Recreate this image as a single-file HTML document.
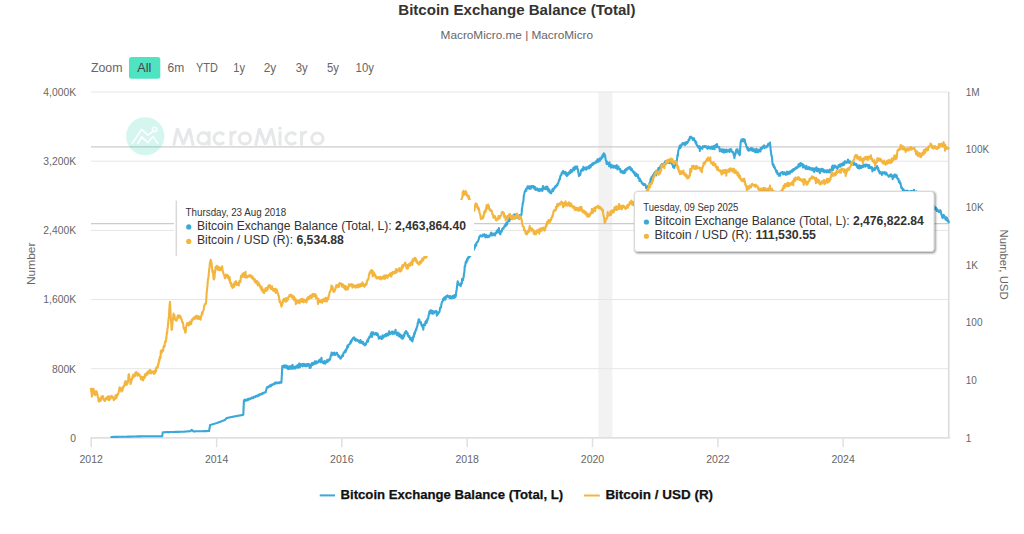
<!DOCTYPE html>
<html><head><meta charset="utf-8"><title>Bitcoin Exchange Balance (Total)</title>
<style>html,body{margin:0;padding:0;background:#fff;width:1024px;height:534px;overflow:hidden}svg{display:block;font-family:"Liberation Sans",sans-serif}</style>
</head><body>
<svg width="1024" height="534" viewBox="0 0 1024 534" font-family="Liberation Sans, sans-serif">
<rect width="1024" height="534" fill="#fff"/>
<text x="398.3" y="15.3" font-size="14.4" font-weight="bold" fill="#333" textLength="237.2" lengthAdjust="spacingAndGlyphs">Bitcoin Exchange Balance (Total)</text>
<text x="440.6" y="39" font-size="11" fill="#666" textLength="152.5" lengthAdjust="spacingAndGlyphs">MacroMicro.me | MacroMicro</text>
<rect x="129" y="57.1" width="31.3" height="21.6" rx="2.5" fill="#50e3c2"/>
<text x="90.9" y="72" font-size="12.5" fill="#666" textLength="31.6" lengthAdjust="spacingAndGlyphs">Zoom</text>
<text x="137.3" y="72" font-size="12.5" fill="#444" textLength="14.1" lengthAdjust="spacingAndGlyphs">All</text>
<text x="167.5" y="72" font-size="12.5" fill="#666" textLength="16.7" lengthAdjust="spacingAndGlyphs">6m</text>
<text x="196" y="72" font-size="12.5" fill="#666" textLength="21.8" lengthAdjust="spacingAndGlyphs">YTD</text>
<text x="233.3" y="72" font-size="12.5" fill="#666" textLength="11.7" lengthAdjust="spacingAndGlyphs">1y</text>
<text x="263.75" y="72" font-size="12.5" fill="#666" textLength="12.5" lengthAdjust="spacingAndGlyphs">2y</text>
<text x="295.8" y="72" font-size="12.5" fill="#666" textLength="12.0" lengthAdjust="spacingAndGlyphs">3y</text>
<text x="327" y="72" font-size="12.5" fill="#666" textLength="12.0" lengthAdjust="spacingAndGlyphs">5y</text>
<text x="355.6" y="72" font-size="12.5" fill="#666" textLength="18.3" lengthAdjust="spacingAndGlyphs">10y</text>
<rect x="598.4" y="92" width="14" height="346" fill="#f2f2f2"/>
<line x1="91" x2="949" y1="368.7" y2="368.7" stroke="#e6e6e6" stroke-width="1"/>
<line x1="91" x2="949" y1="299.5" y2="299.5" stroke="#e6e6e6" stroke-width="1"/>
<line x1="91" x2="949" y1="230.4" y2="230.4" stroke="#e6e6e6" stroke-width="1"/>
<line x1="91" x2="949" y1="161.2" y2="161.2" stroke="#e6e6e6" stroke-width="1"/>
<line x1="91" x2="949" y1="92.0" y2="92.0" stroke="#e6e6e6" stroke-width="1"/>
<line x1="91" x2="949" y1="146.9" y2="146.9" stroke="#cccccc" stroke-width="1.3"/>
<line x1="91" x2="949" y1="223.7" y2="223.7" stroke="#cccccc" stroke-width="1.3"/>
<line x1="948.7" x2="948.7" y1="92" y2="438" stroke="#dadada" stroke-width="1.5"/>
<circle cx="145.25" cy="136.25" r="19.1" fill="#2fd1ac" fill-opacity="0.2"/><path d="M132.2 143.4 L141.7 129.4 L147.9 135.2 L153.2 131.1 M138 143.4 L141.7 136.8 L147.9 142.6 L152.8 136.6 L157.8 143.4" stroke="#fff" stroke-width="1.6" fill="none" stroke-linejoin="round" stroke-linecap="round"/><circle cx="154.6" cy="129.4" r="2.2" fill="none" stroke="#fff" stroke-width="1.5"/><path d="M173.60 145.60 L177.40 128.60 L183.40 144.40 L189.40 128.60 L193.20 145.60 M197.90 138.45 A5.6 5.6 0 1 0 209.10 138.45 A5.6 5.6 0 1 0 197.90 138.45 M209.1 131.2 L209.1 145.6 M224.01 135.00 A5.6 5.6 0 1 0 224.01 141.90 M230.9 145.6 L230.9 131.3 M230.9 137.5 Q231.5 131.9 236.5 132.1 M239.30 138.5 A5.6 5.6 0 1 0 250.50 138.5 A5.6 5.6 0 1 0 239.30 138.5 M255.60 145.60 L259.40 128.60 L265.40 144.40 L271.40 128.60 L275.20 145.60 M280 131.3 L280 145.6 M296.01 135.00 A5.6 5.6 0 1 0 296.01 141.90 M301.5 145.6 L301.5 131.3 M301.5 137.5 Q302.1 131.9 307.1 132.1 M311.80 138.5 A5.6 5.6 0 1 0 323.00 138.5 A5.6 5.6 0 1 0 311.80 138.5" fill="none" stroke="#8c9196" stroke-opacity="0.22" stroke-width="3.0" stroke-linejoin="bevel"/><circle cx="280" cy="128.3" r="1.7" fill="#8c9196" fill-opacity="0.22"/>
<line x1="90.5" x2="950.2" y1="437.9" y2="437.9" stroke="#e0e0e0" stroke-width="1.8"/>
<line x1="91.2" x2="91.2" y1="438" y2="447.2" stroke="#e0e0e0" stroke-width="1.5"/>
<text x="79.5" y="463" font-size="10.5" fill="#666" textLength="23.4" lengthAdjust="spacingAndGlyphs">2012</text>
<line x1="216.6" x2="216.6" y1="438" y2="447.2" stroke="#e0e0e0" stroke-width="1.5"/>
<text x="204.9" y="463" font-size="10.5" fill="#666" textLength="23.4" lengthAdjust="spacingAndGlyphs">2014</text>
<line x1="341.8" x2="341.8" y1="438" y2="447.2" stroke="#e0e0e0" stroke-width="1.5"/>
<text x="330.1" y="463" font-size="10.5" fill="#666" textLength="23.4" lengthAdjust="spacingAndGlyphs">2016</text>
<line x1="467.2" x2="467.2" y1="438" y2="447.2" stroke="#e0e0e0" stroke-width="1.5"/>
<text x="455.5" y="463" font-size="10.5" fill="#666" textLength="23.4" lengthAdjust="spacingAndGlyphs">2018</text>
<line x1="592.5" x2="592.5" y1="438" y2="447.2" stroke="#e0e0e0" stroke-width="1.5"/>
<text x="580.8" y="463" font-size="10.5" fill="#666" textLength="23.4" lengthAdjust="spacingAndGlyphs">2020</text>
<line x1="717.9" x2="717.9" y1="438" y2="447.2" stroke="#e0e0e0" stroke-width="1.5"/>
<text x="706.2" y="463" font-size="10.5" fill="#666" textLength="23.4" lengthAdjust="spacingAndGlyphs">2022</text>
<line x1="843.1" x2="843.1" y1="438" y2="447.2" stroke="#e0e0e0" stroke-width="1.5"/>
<text x="831.4" y="463" font-size="10.5" fill="#666" textLength="23.4" lengthAdjust="spacingAndGlyphs">2024</text>
<text x="76" y="441.7" font-size="10.3" fill="#666" text-anchor="end">0</text>
<text x="76" y="372.5" font-size="10.3" fill="#666" text-anchor="end">800K</text>
<text x="76" y="303.3" font-size="10.3" fill="#666" text-anchor="end">1,600K</text>
<text x="76" y="234.2" font-size="10.3" fill="#666" text-anchor="end">2,400K</text>
<text x="76" y="165.0" font-size="10.3" fill="#666" text-anchor="end">3,200K</text>
<text x="76" y="95.8" font-size="10.3" fill="#666" text-anchor="end">4,000K</text>
<text x="965.8" y="441.6" font-size="10" fill="#666">1</text>
<text x="965.8" y="383.9" font-size="10" fill="#666">10</text>
<text x="965.8" y="326.3" font-size="10" fill="#666">100</text>
<text x="965.8" y="268.7" font-size="10" fill="#666">1K</text>
<text x="965.8" y="211.0" font-size="10" fill="#666">10K</text>
<text x="965.8" y="153.3" font-size="10" fill="#666">100K</text>
<text x="965.8" y="95.7" font-size="10" fill="#666">1M</text>
<text transform="translate(34.6 263.8) rotate(-90)" font-size="11.7" fill="#666" text-anchor="middle" textLength="42.5" lengthAdjust="spacingAndGlyphs">Number</text>
<text transform="translate(1000.2 264.6) rotate(90)" font-size="11.7" fill="#666" text-anchor="middle" textLength="70" lengthAdjust="spacingAndGlyphs">Number, USD</text>
<path d="M110.5 437.0 L110.8 437.0 L111.2 437.0 L111.5 437.0 L111.8 437.0 L112.2 437.0 L112.5 437.0 L112.8 437.0 L113.1 436.9 L113.5 436.9 L113.8 436.9 L114.1 436.9 L114.5 436.9 L114.8 436.9 L115.1 436.9 L115.5 436.9 L115.8 436.9 L116.1 436.9 L116.4 436.9 L116.8 436.9 L117.1 436.9 L117.4 436.9 L117.8 436.8 L118.1 436.8 L118.4 436.8 L118.8 436.8 L119.1 436.8 L119.4 436.8 L119.8 436.8 L120.1 436.8 L120.4 436.8 L120.7 436.8 L121.1 436.8 L121.4 436.8 L121.7 436.8 L122.1 436.8 L122.4 436.7 L122.7 436.7 L123.1 436.7 L123.4 436.7 L123.7 436.7 L124.0 436.7 L124.4 436.7 L124.7 436.7 L125.0 436.7 L125.4 436.7 L125.7 436.7 L126.0 436.7 L126.4 436.7 L126.7 436.7 L127.0 436.7 L127.4 436.6 L127.7 436.6 L128.0 436.6 L128.3 436.6 L128.7 436.6 L129.0 436.6 L129.3 436.6 L129.7 436.6 L130.0 436.6 L130.3 436.6 L130.7 436.6 L131.0 436.6 L131.3 436.6 L131.6 436.6 L132.0 436.5 L132.3 436.5 L132.6 436.5 L133.0 436.5 L133.3 436.5 L133.6 436.5 L134.0 436.5 L134.3 436.5 L134.6 436.5 L135.0 436.5 L135.3 436.5 L135.6 436.5 L135.9 436.5 L136.3 436.5 L136.6 436.5 L136.9 436.4 L137.3 436.4 L137.6 436.4 L137.9 436.4 L138.3 436.4 L138.6 436.4 L138.9 436.4 L139.2 436.4 L139.6 436.4 L139.9 436.4 L140.2 436.4 L140.6 436.4 L140.9 436.4 L141.2 436.4 L141.6 436.3 L141.9 436.3 L142.2 436.3 L142.6 436.3 L142.9 436.3 L143.2 436.3 L143.5 436.3 L143.9 436.3 L144.2 436.3 L144.5 436.3 L144.9 436.3 L145.2 436.3 L145.5 436.3 L145.9 436.3 L146.2 436.2 L146.5 436.2 L146.8 436.2 L147.2 436.2 L147.5 436.2 L147.8 436.2 L148.2 436.2 L148.5 436.2 L148.8 436.2 L149.2 436.2 L149.5 436.2 L149.8 436.2 L150.2 436.2 L150.5 436.2 L150.8 436.2 L151.2 436.2 L151.5 436.2 L151.8 436.2 L152.2 436.2 L152.5 436.2 L152.8 436.2 L153.2 436.2 L153.5 436.2 L153.8 436.2 L154.2 436.2 L154.5 436.2 L154.8 436.2 L155.2 436.2 L155.5 436.3 L155.9 436.3 L156.2 436.3 L156.5 436.3 L156.9 436.3 L157.2 436.3 L157.5 436.3 L157.9 436.3 L158.2 436.3 L158.5 436.3 L158.9 436.3 L159.2 436.3 L159.5 436.3 L159.9 436.3 L160.2 436.3 L160.5 436.3 L160.9 436.3 L161.2 436.3 L161.5 436.3 L161.9 436.3 L162.2 436.3 L162.8 432.2 L163.1 432.2 L163.5 432.2 L163.8 432.2 L164.1 432.2 L164.5 432.2 L164.8 432.2 L165.1 432.2 L165.5 432.1 L165.8 432.1 L166.1 432.1 L166.5 432.1 L166.8 432.1 L167.1 432.1 L167.5 432.1 L167.8 432.1 L168.1 432.1 L168.5 432.1 L168.8 432.1 L169.1 432.1 L169.4 432.1 L169.8 432.1 L170.1 432.0 L170.4 432.0 L170.8 432.0 L171.1 432.0 L171.4 432.0 L171.8 432.0 L172.1 432.0 L172.4 432.0 L172.8 432.0 L173.1 432.0 L173.4 432.0 L173.8 432.0 L174.1 432.0 L174.4 432.0 L174.8 431.9 L175.1 431.9 L175.4 431.9 L175.8 431.9 L176.1 431.9 L176.4 431.9 L176.8 431.9 L177.1 431.9 L177.4 431.9 L177.8 431.9 L178.1 431.9 L178.4 431.9 L178.8 431.9 L179.1 431.9 L179.4 431.8 L179.8 431.8 L180.1 431.8 L180.4 431.8 L180.8 431.8 L181.1 431.8 L181.4 431.8 L181.8 431.8 L182.1 431.8 L182.4 431.8 L182.8 431.7 L183.1 431.7 L183.4 431.7 L183.8 431.7 L184.1 431.6 L184.4 431.6 L184.8 431.6 L185.1 431.6 L185.5 431.5 L185.8 431.5 L186.1 431.5 L186.5 431.5 L186.8 431.5 L187.1 431.4 L187.5 431.4 L187.8 431.4 L188.1 431.4 L188.5 431.3 L188.8 431.3 L189.2 431.3 L189.5 431.3 L189.8 431.2 L190.2 431.2 L190.5 431.2 L190.8 430.7 L191.2 430.3 L191.5 429.8 L191.8 430.1 L192.2 430.3 L192.5 430.6 L192.8 430.9 L193.2 431.1 L193.5 431.4 L193.8 431.4 L194.2 431.4 L194.5 431.4 L194.8 431.4 L195.2 431.4 L195.5 431.3 L195.8 431.3 L196.2 431.3 L196.5 431.3 L196.8 431.3 L197.2 431.3 L197.5 431.3 L197.8 431.3 L198.1 431.3 L198.5 431.3 L198.8 431.3 L199.1 431.3 L199.5 431.2 L199.8 431.2 L200.1 431.2 L200.5 431.2 L200.8 431.2 L201.1 431.2 L201.5 431.2 L201.8 431.2 L202.1 431.2 L202.5 431.2 L202.8 431.2 L203.1 431.2 L203.5 431.1 L203.8 431.1 L204.1 431.1 L204.5 431.1 L204.8 431.1 L205.1 431.1 L205.4 431.1 L205.8 431.1 L206.1 431.1 L206.4 431.1 L206.8 431.1 L207.1 431.1 L207.4 431.0 L207.8 431.0 L208.1 431.0 L208.4 431.0 L208.8 431.0 L209.1 431.0 L209.4 429.0 L209.8 427.0 L210.1 425.0 L210.4 424.9 L210.8 424.8 L211.1 424.7 L211.5 424.6 L211.8 424.5 L212.1 424.4 L212.5 424.3 L212.8 424.2 L213.2 424.1 L213.5 424.0 L213.8 423.9 L214.2 423.8 L214.5 423.7 L214.9 423.6 L215.2 423.5 L215.5 423.4 L215.9 423.3 L216.2 423.2 L216.6 423.1 L216.9 423.0 L217.2 422.9 L217.6 422.7 L217.9 422.6 L218.3 422.5 L218.6 422.4 L218.9 422.2 L219.3 422.1 L219.6 422.0 L220.0 421.9 L220.3 421.7 L220.6 421.6 L221.0 421.5 L221.3 421.4 L221.6 421.2 L222.0 421.1 L222.3 421.0 L222.7 420.9 L223.0 420.7 L223.3 420.6 L223.7 420.5 L224.0 420.4 L224.4 420.2 L224.7 420.1 L225.0 419.8 L225.4 419.4 L225.7 419.1 L226.0 418.8 L226.4 418.4 L226.7 418.1 L227.0 418.0 L227.4 417.9 L227.7 417.9 L228.1 417.8 L228.4 417.7 L228.7 417.6 L229.1 417.6 L229.4 417.5 L229.8 417.4 L230.1 417.3 L230.5 417.3 L230.8 417.2 L231.1 417.1 L231.5 417.0 L231.8 417.0 L232.2 416.9 L232.5 416.8 L232.8 416.7 L233.2 416.7 L233.5 416.6 L233.8 416.6 L234.2 416.5 L234.5 416.4 L234.9 416.4 L235.2 416.3 L235.5 416.2 L235.9 416.2 L236.2 416.1 L236.6 416.1 L236.9 416.0 L237.2 415.9 L237.6 415.9 L237.9 415.8 L238.2 415.7 L238.6 415.7 L238.9 415.6 L239.2 415.6 L239.6 415.5 L239.9 415.4 L240.3 415.4 L240.6 415.3 L240.9 415.2 L241.3 415.2 L241.6 415.1 L242.0 415.1 L242.3 415.0 L242.6 414.9 L243.0 414.9 L243.3 414.8 L243.9 400.9 L244.2 400.2 L244.6 399.5 L244.9 400.2 L245.3 400.9 L245.6 400.0 L245.9 400.3 L246.3 400.3 L246.6 399.7 L247.0 400.5 L247.3 399.9 L247.7 399.0 L248.0 399.4 L248.3 399.9 L248.7 398.9 L249.0 399.1 L249.4 398.6 L249.7 399.1 L250.1 399.1 L250.4 398.4 L250.7 398.3 L251.1 397.9 L251.4 398.5 L251.8 397.6 L252.1 398.0 L252.4 398.0 L252.8 398.3 L253.1 398.2 L253.5 396.9 L253.8 397.3 L254.1 397.1 L254.5 396.9 L254.8 397.1 L255.2 397.1 L255.5 396.1 L255.8 396.2 L256.2 396.1 L256.5 395.8 L256.8 395.7 L257.2 396.3 L257.5 395.5 L257.9 396.2 L258.2 395.1 L258.5 395.5 L258.9 394.7 L259.2 395.4 L259.6 395.3 L259.9 394.7 L260.2 394.0 L260.6 394.0 L260.9 394.4 L261.3 394.0 L261.6 393.9 L261.9 394.2 L262.3 393.2 L262.6 393.7 L263.0 393.3 L263.3 392.9 L263.7 393.3 L264.0 392.7 L264.3 392.4 L264.7 392.3 L265.0 392.2 L265.4 392.5 L265.7 392.3 L266.0 390.4 L266.4 389.4 L266.7 387.9 L267.1 387.2 L267.4 387.6 L267.8 386.9 L268.1 387.4 L268.5 386.7 L268.9 386.3 L269.2 386.7 L269.6 385.9 L269.9 385.4 L270.3 385.2 L270.6 386.5 L271.0 385.6 L271.3 385.5 L271.7 384.5 L272.0 384.8 L272.4 385.0 L272.7 384.5 L273.1 384.2 L273.4 383.8 L273.8 384.4 L274.1 383.7 L274.5 384.1 L274.8 382.9 L275.2 383.7 L275.5 383.0 L275.8 382.4 L276.2 382.8 L276.5 383.1 L276.9 382.5 L277.2 382.5 L277.6 383.3 L277.9 382.5 L278.3 382.7 L278.6 382.6 L279.0 382.5 L279.3 383.2 L279.7 382.9 L280.0 382.1 L280.4 382.2 L280.7 382.7 L281.1 382.4 L281.4 382.6 L281.9 374.4 L282.3 366.1 L282.6 366.7 L283.0 366.1 L283.3 367.2 L283.7 365.6 L284.0 367.4 L284.4 365.6 L284.7 365.5 L285.1 366.6 L285.4 366.7 L285.7 365.5 L286.1 365.7 L286.4 368.0 L286.8 365.8 L287.1 366.9 L287.5 366.2 L287.8 367.5 L288.1 369.1 L288.5 368.5 L288.8 369.0 L289.2 368.9 L289.5 366.3 L289.8 368.8 L290.2 366.9 L290.5 366.3 L290.9 366.6 L291.2 366.2 L291.5 368.7 L291.9 366.5 L292.2 366.7 L292.5 364.9 L292.9 368.6 L293.2 368.5 L293.6 368.1 L293.9 367.3 L294.2 366.7 L294.6 367.3 L294.9 368.4 L295.3 368.7 L295.6 367.1 L295.9 366.7 L296.3 366.1 L296.6 367.0 L297.0 367.5 L297.3 365.6 L297.6 365.1 L298.0 365.6 L298.3 367.8 L298.7 366.7 L299.0 364.5 L299.3 363.4 L299.7 365.7 L300.0 367.1 L300.3 364.8 L300.7 364.1 L301.0 364.4 L301.4 364.9 L301.7 365.6 L302.0 364.3 L302.4 365.0 L302.7 366.4 L303.1 363.8 L303.4 364.8 L303.7 365.3 L304.1 365.7 L304.4 364.1 L304.8 365.9 L305.1 364.4 L305.5 364.7 L305.8 365.7 L306.2 366.3 L306.5 365.2 L306.9 364.2 L307.2 365.9 L307.5 365.4 L307.9 363.9 L308.2 365.4 L308.6 365.6 L308.9 364.1 L309.3 364.5 L309.6 368.0 L310.0 365.9 L310.3 365.2 L310.7 367.6 L311.0 364.7 L311.4 364.5 L311.7 363.3 L312.1 362.9 L312.4 365.0 L312.8 365.1 L313.1 363.1 L313.4 363.5 L313.8 363.6 L314.1 363.8 L314.5 362.2 L314.8 361.4 L315.2 362.8 L315.6 361.7 L315.9 363.8 L316.3 361.6 L316.6 361.3 L317.0 363.0 L317.3 362.1 L317.7 362.7 L318.0 362.1 L318.4 361.9 L318.7 361.2 L319.1 360.3 L319.4 359.8 L319.8 360.9 L320.1 362.0 L320.5 359.3 L320.8 362.3 L321.1 359.9 L321.5 357.8 L321.8 361.7 L322.2 362.2 L322.5 361.8 L322.8 362.7 L323.2 363.1 L323.5 363.1 L323.9 363.5 L324.2 361.2 L324.5 360.8 L324.9 363.4 L325.2 363.6 L325.6 362.0 L325.9 362.8 L326.3 361.2 L326.6 361.2 L327.0 361.6 L327.3 359.7 L327.7 361.9 L328.0 360.3 L328.4 360.6 L328.7 360.6 L329.1 359.3 L329.4 360.5 L329.8 359.3 L330.2 359.1 L330.5 356.6 L330.9 355.3 L331.2 354.6 L331.6 352.6 L331.9 355.4 L332.3 353.0 L332.6 353.0 L333.0 354.1 L333.3 353.2 L333.6 354.4 L334.0 354.9 L334.3 352.6 L334.6 353.6 L335.0 354.1 L335.3 354.7 L335.6 354.8 L335.9 353.5 L336.3 353.7 L336.6 352.8 L336.9 352.7 L337.3 353.6 L337.6 354.4 L338.0 354.8 L338.3 356.5 L338.7 355.6 L339.1 356.9 L339.4 357.0 L339.8 356.4 L340.2 358.5 L340.5 358.6 L340.9 358.3 L341.3 357.5 L341.6 357.4 L342.0 356.4 L342.3 355.1 L342.7 354.8 L343.1 355.9 L343.4 353.1 L343.8 353.1 L344.1 352.0 L344.5 352.5 L344.9 350.9 L345.2 352.0 L345.6 352.1 L345.9 349.6 L346.3 350.3 L346.6 348.5 L347.0 348.6 L347.3 346.5 L347.7 345.4 L348.0 347.2 L348.4 345.6 L348.7 345.0 L349.1 344.4 L349.4 344.3 L349.8 344.1 L350.1 342.6 L350.5 343.1 L350.8 340.8 L351.1 342.4 L351.5 341.2 L351.8 340.6 L352.2 339.3 L352.5 339.3 L352.9 338.1 L353.2 337.8 L353.5 338.7 L353.9 337.3 L354.2 338.2 L354.6 338.2 L354.9 340.0 L355.3 339.3 L355.6 338.6 L356.0 340.7 L356.3 339.7 L356.7 340.4 L357.0 339.7 L357.4 340.1 L357.7 340.7 L358.1 340.6 L358.4 340.4 L358.8 342.0 L359.1 340.7 L359.4 341.5 L359.8 341.9 L360.1 342.8 L360.5 340.1 L360.8 341.4 L361.1 341.3 L361.5 342.7 L361.8 341.5 L362.2 343.2 L362.5 342.7 L362.8 343.8 L363.2 342.1 L363.5 344.1 L363.9 343.9 L364.2 343.8 L364.5 345.3 L364.9 344.5 L365.2 345.2 L365.6 343.7 L365.9 344.6 L366.2 342.6 L366.6 342.6 L366.9 341.6 L367.3 340.8 L367.6 339.8 L368.0 341.6 L368.4 338.4 L368.7 338.4 L369.1 338.2 L369.4 336.5 L369.8 337.3 L370.1 336.5 L370.4 335.6 L370.8 333.9 L371.2 334.9 L371.5 332.2 L371.9 337.0 L372.2 332.8 L372.6 332.4 L372.9 334.4 L373.2 332.3 L373.6 334.3 L373.9 334.5 L374.3 334.1 L374.6 334.4 L375.0 334.1 L375.3 333.6 L375.7 332.9 L376.1 334.1 L376.4 334.9 L376.8 333.3 L377.1 333.3 L377.4 333.4 L377.8 334.0 L378.1 335.5 L378.5 337.1 L378.9 338.8 L379.2 336.9 L379.6 338.2 L379.9 337.2 L380.2 336.5 L380.6 338.2 L380.9 338.4 L381.3 338.6 L381.6 338.9 L382.0 338.9 L382.3 337.1 L382.6 335.4 L383.0 337.1 L383.3 337.6 L383.7 336.2 L384.0 336.9 L384.3 335.6 L384.7 335.8 L385.0 334.7 L385.4 334.9 L385.7 334.2 L386.0 336.3 L386.4 335.5 L386.7 333.7 L387.1 334.4 L387.4 333.9 L387.7 334.7 L388.1 335.4 L388.4 333.8 L388.8 332.2 L389.1 331.3 L389.4 333.8 L389.8 334.3 L390.1 333.7 L390.5 333.7 L390.8 333.5 L391.1 332.2 L391.5 332.9 L391.8 331.7 L392.1 331.4 L392.5 334.2 L392.8 332.4 L393.2 333.6 L393.5 331.9 L393.8 332.3 L394.2 332.3 L394.5 333.8 L394.9 332.6 L395.2 332.3 L395.5 329.7 L395.9 333.0 L396.2 332.8 L396.6 332.4 L396.9 334.9 L397.2 333.7 L397.6 332.7 L397.9 333.3 L398.3 332.9 L398.6 336.0 L398.9 336.4 L399.3 336.4 L399.6 333.9 L399.9 334.8 L400.3 334.9 L400.6 337.0 L401.0 337.5 L401.3 335.3 L401.6 337.5 L402.0 338.5 L402.3 338.8 L402.7 336.0 L403.0 337.8 L403.3 338.2 L403.7 334.9 L404.0 336.3 L404.3 335.9 L404.7 332.6 L405.0 333.5 L405.3 333.1 L405.7 332.7 L406.0 331.0 L406.3 332.0 L406.7 331.9 L407.0 333.6 L407.4 334.2 L407.7 333.2 L408.0 335.9 L408.4 336.0 L408.7 335.9 L409.1 337.2 L409.4 336.1 L409.8 338.5 L410.1 338.4 L410.4 339.7 L410.8 338.3 L411.1 337.8 L411.5 340.4 L411.8 340.7 L412.2 341.0 L412.5 341.4 L412.9 339.2 L413.2 336.4 L413.6 337.2 L413.9 336.6 L414.2 333.1 L414.6 334.5 L414.9 333.4 L415.3 330.8 L415.6 331.4 L416.0 329.0 L416.3 329.8 L416.7 328.1 L417.0 326.5 L417.4 326.1 L417.7 322.8 L418.0 323.5 L418.4 320.8 L418.7 319.3 L419.1 320.3 L419.4 319.7 L419.8 322.1 L420.1 322.3 L420.5 322.9 L420.8 322.1 L421.2 323.9 L421.5 325.4 L421.9 324.6 L422.2 325.9 L422.6 327.1 L423.0 325.1 L423.3 329.7 L423.7 325.6 L424.0 324.4 L424.4 324.4 L424.7 325.0 L425.1 325.2 L425.4 321.7 L425.8 321.7 L426.1 320.8 L426.4 322.9 L426.8 322.7 L427.1 319.4 L427.5 320.3 L427.9 318.2 L428.3 318.2 L428.6 315.2 L429.0 314.7 L429.4 311.5 L429.8 311.2 L430.1 310.6 L430.4 313.3 L430.8 310.3 L431.1 311.4 L431.5 313.2 L431.9 310.6 L432.2 312.7 L432.6 313.7 L432.9 311.1 L433.2 313.7 L433.6 311.7 L433.9 313.3 L434.3 312.5 L434.7 311.9 L435.0 311.3 L435.4 311.4 L435.7 311.4 L436.1 310.9 L436.4 311.5 L436.8 315.6 L437.1 313.9 L437.4 313.7 L437.8 312.3 L438.1 313.9 L438.5 312.9 L438.8 312.0 L439.2 312.5 L439.6 311.2 L439.9 308.9 L440.3 307.3 L440.6 307.7 L441.0 307.5 L441.3 304.7 L441.7 303.0 L442.0 302.0 L442.4 301.3 L442.7 301.3 L443.1 298.8 L443.5 300.2 L443.8 299.8 L444.2 297.5 L444.5 297.6 L444.9 297.2 L445.2 299.6 L445.6 299.2 L445.9 297.0 L446.2 296.2 L446.6 296.8 L446.9 295.8 L447.3 296.7 L447.6 295.4 L448.0 296.9 L448.4 297.1 L448.7 296.9 L449.1 296.3 L449.4 296.1 L449.8 298.2 L450.1 296.5 L450.5 296.2 L450.8 297.6 L451.2 296.8 L451.5 298.5 L451.9 297.9 L452.3 298.0 L452.6 296.1 L453.0 297.1 L453.3 295.7 L453.7 296.5 L454.0 298.0 L454.4 295.1 L454.7 296.4 L455.1 295.5 L455.4 297.1 L455.8 295.9 L456.2 291.9 L456.6 290.3 L456.9 287.3 L457.3 284.2 L457.7 281.2 L458.0 282.5 L458.4 283.5 L458.7 283.5 L459.0 284.2 L459.4 285.1 L459.7 284.5 L460.0 285.1 L460.4 284.0 L460.7 286.1 L461.1 284.1 L461.4 282.6 L461.8 283.8 L462.1 278.7 L462.5 279.6 L462.9 280.2 L463.2 278.5 L463.6 277.3 L464.0 273.3 L464.4 272.6 L464.7 266.4 L465.1 266.4 L465.5 263.7 L465.8 261.7 L466.2 261.0 L466.5 262.6 L466.8 260.9 L467.2 258.8 L467.5 260.5 L467.8 258.1 L468.2 257.6 L468.5 256.8 L468.9 257.8 L469.2 255.4 L469.6 255.0 L469.9 256.6 L470.3 255.9 L470.6 255.3 L471.0 253.8 L471.3 254.7 L471.7 252.6 L472.0 252.0 L472.4 252.0 L472.8 249.9 L473.1 250.5 L473.4 247.1 L473.8 249.9 L474.1 248.7 L474.5 247.5 L474.8 248.1 L475.2 244.7 L475.5 244.9 L475.8 244.2 L476.2 245.7 L476.5 242.9 L476.8 242.9 L477.2 241.8 L477.5 241.8 L477.9 241.6 L478.2 240.7 L478.6 239.7 L478.9 238.9 L479.2 237.2 L479.6 236.4 L479.9 236.6 L480.3 236.2 L480.6 235.3 L481.0 236.2 L481.3 236.3 L481.6 236.4 L482.0 236.5 L482.3 235.9 L482.7 235.5 L483.0 234.7 L483.3 235.5 L483.7 235.7 L484.0 235.3 L484.3 234.3 L484.7 234.7 L485.0 235.7 L485.4 237.4 L485.7 236.8 L486.1 234.7 L486.4 236.0 L486.8 236.0 L487.1 237.2 L487.5 235.7 L487.8 236.7 L488.1 237.2 L488.5 235.7 L488.8 236.5 L489.1 236.8 L489.5 235.5 L489.8 236.0 L490.2 234.8 L490.5 235.3 L490.8 233.2 L491.2 232.6 L491.5 233.9 L491.8 234.2 L492.2 235.5 L492.5 233.7 L492.9 235.2 L493.2 233.7 L493.6 234.0 L493.9 233.5 L494.3 234.4 L494.6 233.7 L495.0 235.4 L495.3 234.3 L495.7 233.6 L496.0 232.6 L496.4 233.0 L496.7 230.9 L497.1 231.1 L497.4 232.2 L497.8 229.7 L498.1 230.1 L498.5 232.1 L498.9 228.1 L499.2 232.1 L499.6 233.6 L500.0 233.4 L500.4 234.4 L500.7 232.2 L501.1 231.1 L501.4 231.2 L501.8 231.6 L502.1 229.7 L502.4 228.5 L502.8 228.3 L503.2 228.1 L503.5 228.7 L503.9 227.0 L504.2 227.0 L504.6 225.7 L504.9 226.8 L505.2 224.8 L505.6 225.0 L506.0 225.6 L506.3 222.8 L506.6 224.2 L507.0 224.7 L507.4 222.4 L507.7 221.5 L508.0 221.7 L508.4 221.2 L508.8 219.6 L509.2 220.4 L509.5 221.1 L509.9 217.5 L510.3 218.4 L510.6 219.1 L511.0 218.5 L511.3 216.2 L511.6 217.7 L512.0 216.2 L512.3 217.0 L512.7 217.1 L513.0 218.0 L513.3 215.8 L513.7 214.8 L514.0 215.6 L514.3 214.4 L514.7 214.7 L515.0 216.9 L515.3 217.0 L515.7 214.5 L516.0 215.6 L516.4 215.8 L516.7 215.7 L517.0 217.8 L517.4 216.1 L517.7 216.3 L518.0 218.0 L518.4 218.4 L518.7 217.0 L519.1 217.2 L519.5 215.1 L519.9 217.4 L520.2 217.3 L520.6 215.2 L521.0 215.6 L521.4 214.8 L521.7 212.4 L522.0 208.3 L522.4 206.4 L522.8 203.0 L523.2 202.5 L523.5 199.7 L523.9 195.2 L524.3 193.7 L524.6 192.1 L525.0 191.7 L525.3 190.5 L525.6 190.8 L526.0 189.1 L526.3 190.9 L526.6 188.4 L527.0 187.9 L527.3 187.9 L527.6 186.4 L528.0 187.3 L528.3 188.4 L528.7 186.9 L529.0 186.4 L529.3 188.6 L529.7 186.4 L530.0 188.1 L530.4 188.8 L530.7 188.8 L531.1 186.4 L531.4 186.0 L531.7 186.4 L532.1 187.4 L532.4 186.2 L532.8 186.0 L533.1 186.9 L533.5 186.0 L533.8 187.6 L534.2 188.6 L534.5 188.5 L534.9 187.6 L535.2 187.2 L535.6 189.9 L535.9 189.5 L536.3 189.5 L536.6 189.5 L537.0 189.8 L537.4 188.4 L537.7 188.9 L538.0 190.5 L538.4 189.5 L538.8 190.7 L539.1 191.0 L539.5 189.1 L539.8 191.1 L540.1 189.3 L540.5 190.3 L540.9 189.0 L541.2 189.3 L541.5 188.8 L541.9 189.8 L542.2 191.0 L542.6 190.2 L542.9 186.0 L543.3 188.3 L543.6 188.7 L544.0 187.6 L544.3 187.8 L544.7 188.9 L545.0 187.8 L545.4 189.0 L545.8 186.7 L546.1 189.1 L546.4 186.6 L546.8 187.9 L547.2 188.7 L547.5 186.9 L547.9 190.1 L548.2 191.0 L548.6 188.8 L548.9 190.2 L549.3 192.0 L549.6 190.1 L550.0 191.6 L550.3 192.9 L550.7 192.7 L551.0 193.4 L551.4 191.7 L551.7 192.1 L552.1 191.1 L552.4 189.5 L552.8 188.8 L553.1 190.9 L553.5 189.6 L553.8 189.5 L554.2 187.9 L554.5 187.8 L554.9 186.9 L555.2 186.3 L555.6 187.6 L555.9 185.9 L556.3 186.1 L556.6 185.9 L557.0 184.6 L557.3 185.4 L557.7 183.6 L558.0 183.5 L558.4 182.5 L558.8 181.3 L559.1 179.8 L559.5 179.1 L559.9 179.3 L560.2 176.7 L560.6 175.6 L561.0 174.9 L561.3 175.4 L561.7 172.7 L562.0 173.0 L562.4 172.2 L562.8 171.3 L563.1 170.9 L563.4 173.4 L563.8 173.5 L564.1 173.1 L564.5 173.0 L564.8 172.2 L565.2 171.8 L565.5 173.9 L565.9 175.0 L566.2 173.0 L566.6 172.8 L566.9 176.1 L567.3 174.2 L567.6 173.3 L568.0 174.1 L568.4 174.7 L568.7 174.0 L569.0 173.6 L569.4 171.5 L569.8 171.7 L570.1 172.1 L570.5 172.8 L570.8 169.9 L571.1 171.5 L571.5 171.5 L571.9 172.0 L572.2 170.3 L572.6 170.0 L572.9 169.1 L573.2 168.1 L573.6 168.1 L574.0 170.4 L574.3 167.2 L574.7 167.4 L575.0 166.5 L575.4 168.9 L575.7 167.3 L576.1 167.8 L576.4 166.7 L576.8 166.5 L577.1 166.4 L577.5 169.4 L577.9 169.2 L578.2 172.0 L578.6 173.7 L579.0 176.1 L579.3 174.0 L579.7 174.5 L580.0 175.1 L580.3 174.6 L580.7 172.7 L581.0 170.2 L581.3 171.2 L581.7 170.3 L582.0 169.3 L582.3 169.2 L582.7 168.5 L583.0 170.4 L583.4 166.8 L583.7 168.8 L584.0 169.5 L584.4 169.1 L584.7 168.9 L585.1 168.4 L585.4 167.7 L585.8 168.8 L586.1 169.8 L586.4 167.2 L586.8 167.7 L587.1 168.6 L587.5 168.6 L587.8 168.3 L588.2 168.1 L588.5 166.4 L588.9 166.1 L589.2 168.4 L589.6 167.7 L589.9 165.5 L590.3 167.2 L590.6 167.2 L591.0 164.9 L591.3 165.9 L591.7 165.4 L592.1 163.9 L592.4 163.3 L592.8 163.9 L593.1 164.7 L593.5 163.0 L593.8 163.0 L594.2 163.3 L594.5 162.8 L594.9 163.4 L595.2 162.6 L595.6 161.5 L596.0 162.2 L596.3 162.3 L596.6 160.7 L597.0 162.4 L597.4 159.3 L597.7 159.4 L598.0 161.5 L598.4 161.7 L598.8 159.4 L599.1 159.9 L599.5 160.2 L599.8 158.3 L600.1 160.6 L600.5 159.5 L600.9 159.1 L601.2 159.0 L601.6 156.8 L601.9 157.5 L602.3 157.8 L602.6 154.8 L603.0 154.7 L603.3 156.5 L603.7 153.3 L604.0 155.2 L604.4 153.7 L604.7 154.8 L605.1 155.5 L605.4 157.8 L605.7 159.9 L606.1 160.5 L606.4 162.5 L606.7 164.0 L607.1 161.6 L607.4 162.9 L607.8 163.9 L608.1 163.4 L608.5 164.8 L608.8 162.9 L609.2 166.3 L609.5 162.4 L609.9 164.6 L610.2 165.6 L610.6 166.1 L610.9 167.6 L611.2 166.4 L611.6 164.9 L611.9 167.3 L612.3 167.3 L612.6 166.8 L613.0 165.7 L613.3 167.6 L613.7 167.0 L614.0 167.2 L614.3 166.4 L614.7 165.9 L615.0 166.1 L615.4 165.9 L615.7 168.0 L616.1 166.0 L616.4 165.6 L616.8 165.2 L617.1 166.4 L617.4 169.5 L617.8 167.0 L618.1 167.0 L618.5 166.6 L618.8 167.8 L619.2 169.0 L619.5 168.7 L619.9 169.9 L620.2 169.0 L620.6 172.0 L620.9 171.7 L621.3 172.4 L621.6 171.6 L622.0 171.3 L622.3 170.9 L622.7 172.1 L623.0 173.2 L623.3 172.0 L623.7 171.5 L624.0 173.3 L624.4 170.8 L624.7 172.9 L625.0 169.8 L625.4 172.0 L625.7 169.3 L626.1 170.2 L626.4 170.2 L626.8 168.5 L627.1 169.8 L627.4 168.4 L627.8 167.8 L628.1 167.7 L628.5 168.6 L628.8 167.3 L629.1 167.6 L629.5 167.2 L629.8 166.8 L630.2 168.9 L630.5 167.6 L630.9 170.1 L631.2 168.4 L631.6 168.9 L631.9 169.1 L632.3 170.5 L632.6 171.4 L633.0 172.0 L633.3 171.3 L633.7 171.4 L634.0 173.3 L634.4 172.2 L634.7 173.2 L635.0 175.2 L635.4 173.4 L635.7 176.0 L636.1 173.5 L636.4 176.0 L636.7 175.5 L637.1 175.5 L637.4 175.6 L637.8 174.6 L638.1 177.8 L638.5 177.2 L638.8 178.3 L639.1 178.1 L639.5 181.0 L639.8 178.6 L640.2 179.7 L640.5 181.0 L640.9 181.3 L641.2 181.1 L641.5 181.8 L641.9 183.5 L642.2 183.2 L642.6 183.3 L643.0 184.3 L643.3 183.6 L643.6 185.0 L644.0 184.0 L644.4 184.8 L644.7 184.0 L645.0 185.0 L645.4 184.7 L645.8 186.5 L646.1 188.0 L646.5 187.0 L646.8 188.4 L647.1 186.9 L647.5 188.0 L647.8 188.1 L648.2 185.7 L648.5 186.6 L648.8 185.0 L649.2 183.4 L649.5 183.9 L649.8 183.0 L650.2 181.8 L650.5 180.0 L650.8 178.5 L651.2 180.6 L651.5 177.0 L651.8 179.5 L652.2 180.5 L652.5 177.8 L652.8 175.4 L653.2 174.7 L653.5 176.8 L653.8 176.2 L654.2 173.0 L654.5 174.0 L654.9 174.5 L655.2 171.7 L655.5 171.8 L655.9 171.0 L656.2 175.4 L656.6 172.6 L657.0 170.9 L657.3 170.3 L657.7 170.7 L658.0 170.4 L658.4 168.0 L658.7 168.8 L659.1 168.4 L659.4 167.6 L659.8 169.2 L660.1 168.1 L660.5 166.0 L660.8 165.3 L661.2 166.4 L661.5 166.1 L661.9 164.0 L662.2 165.7 L662.6 164.9 L663.0 164.8 L663.3 165.9 L663.7 164.8 L664.0 163.3 L664.4 165.1 L664.7 163.0 L665.1 161.9 L665.4 161.2 L665.8 163.9 L666.1 162.6 L666.5 162.0 L666.9 161.1 L667.2 160.6 L667.6 162.6 L667.9 160.2 L668.3 161.0 L668.6 161.6 L669.0 162.9 L669.3 163.1 L669.7 161.2 L670.0 162.7 L670.4 161.0 L670.8 162.0 L671.1 161.9 L671.5 162.5 L671.8 163.9 L672.2 163.6 L672.5 164.9 L672.9 165.8 L673.2 167.3 L673.6 167.4 L673.9 167.2 L674.3 167.9 L674.7 165.5 L675.0 165.5 L675.4 164.3 L675.8 162.2 L676.1 162.8 L676.5 161.0 L676.8 160.6 L677.2 158.1 L677.5 154.8 L677.9 155.6 L678.2 151.5 L678.5 150.1 L678.9 148.6 L679.2 147.3 L679.6 147.1 L679.9 145.5 L680.3 148.1 L680.6 146.1 L681.0 146.9 L681.3 144.6 L681.7 145.0 L682.0 144.4 L682.4 144.4 L682.7 143.1 L683.1 144.4 L683.5 144.5 L683.8 143.2 L684.2 143.4 L684.5 143.2 L684.9 142.6 L685.2 145.0 L685.6 143.5 L685.9 144.0 L686.3 142.1 L686.6 143.1 L687.0 143.4 L687.4 142.1 L687.7 142.6 L688.1 141.1 L688.4 141.2 L688.8 139.3 L689.1 140.4 L689.5 139.6 L689.8 137.1 L690.2 137.5 L690.5 137.2 L690.9 136.6 L691.3 137.8 L691.6 138.0 L692.0 137.5 L692.3 137.7 L692.7 139.6 L693.0 138.7 L693.4 140.1 L693.7 140.2 L694.1 138.3 L694.4 140.3 L694.8 140.5 L695.2 142.1 L695.5 141.1 L695.9 143.7 L696.2 142.1 L696.6 144.4 L697.0 145.5 L697.3 145.6 L697.7 146.4 L698.1 147.2 L698.4 147.0 L698.8 147.9 L699.1 146.0 L699.5 147.3 L699.8 151.0 L700.2 146.8 L700.5 147.0 L700.9 148.1 L701.2 147.9 L701.6 148.3 L702.0 147.5 L702.3 148.9 L702.7 147.0 L703.0 146.2 L703.4 147.0 L703.7 147.2 L704.1 146.7 L704.4 146.0 L704.8 146.9 L705.1 146.0 L705.5 146.4 L705.8 146.3 L706.2 146.2 L706.5 147.8 L706.8 147.7 L707.2 147.5 L707.5 148.7 L707.8 148.7 L708.2 147.5 L708.5 146.4 L708.8 146.6 L709.2 147.1 L709.5 148.3 L709.9 148.4 L710.2 148.1 L710.6 148.6 L710.9 147.0 L711.3 146.7 L711.6 146.8 L712.0 146.4 L712.3 149.0 L712.7 148.0 L713.0 148.7 L713.4 147.3 L713.8 146.0 L714.1 147.6 L714.5 149.3 L714.8 145.8 L715.2 145.9 L715.5 145.2 L715.9 145.5 L716.2 144.8 L716.6 147.3 L716.9 144.1 L717.3 145.4 L717.7 146.5 L718.0 146.8 L718.4 147.1 L718.8 147.6 L719.1 147.2 L719.5 147.9 L719.8 151.3 L720.2 150.3 L720.6 150.5 L720.9 149.9 L721.2 150.5 L721.6 149.3 L722.0 151.8 L722.3 150.8 L722.7 149.6 L723.0 152.1 L723.4 150.0 L723.7 149.5 L724.1 152.5 L724.4 152.5 L724.8 149.7 L725.1 151.2 L725.4 151.0 L725.8 151.9 L726.1 152.0 L726.5 149.6 L726.8 149.7 L727.1 151.8 L727.5 150.7 L727.8 150.9 L728.2 151.2 L728.5 150.9 L728.9 150.2 L729.2 149.5 L729.5 151.9 L729.9 151.6 L730.2 150.3 L730.6 149.1 L730.9 150.3 L731.3 149.5 L731.6 151.3 L732.0 151.5 L732.3 152.2 L732.7 152.1 L733.0 152.7 L733.4 152.2 L733.7 155.1 L734.1 155.6 L734.4 158.0 L734.8 155.2 L735.1 155.1 L735.5 153.8 L735.8 153.1 L736.1 150.5 L736.5 149.5 L736.8 149.3 L737.2 149.4 L737.5 149.4 L737.9 150.7 L738.2 153.2 L738.6 151.6 L739.0 154.0 L739.3 153.0 L739.7 155.2 L740.0 151.2 L740.4 145.6 L740.7 141.5 L741.1 141.2 L741.4 139.6 L741.8 140.7 L742.1 139.5 L742.5 141.3 L742.8 139.3 L743.2 139.1 L743.5 139.1 L743.9 141.4 L744.2 140.6 L744.6 139.5 L745.0 140.7 L745.3 143.3 L745.7 143.6 L746.0 144.8 L746.4 146.5 L746.8 147.5 L747.1 147.0 L747.5 149.3 L747.9 149.9 L748.2 148.1 L748.5 150.7 L748.9 150.1 L749.2 150.3 L749.6 149.1 L750.0 150.2 L750.3 148.7 L750.6 149.4 L751.0 148.1 L751.4 150.2 L751.7 150.4 L752.0 148.3 L752.4 149.3 L752.8 148.7 L753.1 151.0 L753.4 150.6 L753.8 151.0 L754.1 150.9 L754.5 151.6 L754.8 149.4 L755.2 152.0 L755.5 151.5 L755.9 152.3 L756.2 151.5 L756.6 148.9 L756.9 151.7 L757.3 152.2 L757.6 151.7 L758.0 150.6 L758.4 152.3 L758.7 150.1 L759.0 149.7 L759.4 149.9 L759.8 150.7 L760.1 150.0 L760.5 151.4 L760.8 148.0 L761.1 147.9 L761.5 149.2 L761.9 148.9 L762.2 147.3 L762.6 147.2 L762.9 147.2 L763.3 146.1 L763.6 145.9 L764.0 145.3 L764.3 148.2 L764.7 147.7 L765.0 146.2 L765.4 146.7 L765.7 146.5 L766.1 146.4 L766.5 147.4 L766.8 146.2 L767.2 145.7 L767.5 146.4 L767.9 145.1 L768.2 143.9 L768.6 144.5 L768.9 143.6 L769.3 144.7 L769.6 143.9 L770.0 142.5 L770.3 145.9 L770.7 149.8 L771.0 152.2 L771.4 155.5 L771.8 155.8 L772.1 158.7 L772.5 163.6 L772.9 164.9 L773.2 165.7 L773.6 164.5 L773.9 167.3 L774.2 166.4 L774.6 167.0 L774.9 167.9 L775.2 169.2 L775.6 169.8 L775.9 169.8 L776.3 172.0 L776.6 171.9 L777.0 170.9 L777.3 173.8 L777.7 173.0 L778.1 174.3 L778.4 173.9 L778.8 175.7 L779.2 174.3 L779.5 173.5 L779.9 174.2 L780.2 175.7 L780.6 173.2 L781.0 172.5 L781.3 172.9 L781.7 172.7 L782.1 172.0 L782.4 172.5 L782.8 172.2 L783.1 174.4 L783.5 174.2 L783.8 174.1 L784.2 172.2 L784.5 173.3 L784.9 174.1 L785.2 172.9 L785.6 173.7 L786.0 174.9 L786.3 172.8 L786.6 172.5 L787.0 171.7 L787.4 173.2 L787.7 174.3 L788.0 171.9 L788.4 172.8 L788.8 173.0 L789.1 173.3 L789.5 171.6 L789.8 173.6 L790.1 172.6 L790.5 171.8 L790.9 171.2 L791.2 172.0 L791.5 170.6 L791.9 170.2 L792.2 171.6 L792.6 170.2 L793.0 171.1 L793.3 169.1 L793.6 169.0 L794.0 170.1 L794.4 169.0 L794.7 168.7 L795.0 169.3 L795.4 167.9 L795.7 168.7 L796.1 168.0 L796.4 167.2 L796.8 168.2 L797.1 167.8 L797.5 167.7 L797.8 166.9 L798.2 166.4 L798.5 164.4 L798.8 166.6 L799.2 164.4 L799.5 163.8 L799.9 166.4 L800.2 164.2 L800.6 163.0 L800.9 163.6 L801.2 163.9 L801.6 165.1 L801.9 163.7 L802.3 164.5 L802.6 165.9 L803.0 167.6 L803.3 164.5 L803.7 165.1 L804.0 166.1 L804.4 167.1 L804.7 166.4 L805.0 167.7 L805.4 166.9 L805.7 169.0 L806.0 167.1 L806.4 165.8 L806.7 168.1 L807.0 167.3 L807.4 168.0 L807.7 169.1 L808.1 169.1 L808.4 167.7 L808.7 167.0 L809.1 167.4 L809.4 168.8 L809.7 169.4 L810.1 168.7 L810.4 167.9 L810.8 168.2 L811.1 169.7 L811.5 168.8 L811.8 169.7 L812.2 168.3 L812.5 169.8 L812.8 170.0 L813.2 170.6 L813.5 170.0 L813.9 168.3 L814.2 172.0 L814.6 169.8 L814.9 169.0 L815.3 169.9 L815.6 169.5 L815.9 168.9 L816.3 167.2 L816.6 170.9 L816.9 169.5 L817.3 168.5 L817.6 170.6 L817.9 171.4 L818.3 170.8 L818.6 170.9 L818.9 168.7 L819.2 170.0 L819.6 169.2 L819.9 173.1 L820.2 171.5 L820.6 169.9 L820.9 169.8 L821.2 171.3 L821.6 168.7 L821.9 170.3 L822.2 170.7 L822.6 168.9 L822.9 171.5 L823.2 169.2 L823.6 170.9 L823.9 170.3 L824.3 172.2 L824.6 171.5 L824.9 170.4 L825.3 170.9 L825.6 171.7 L825.9 170.5 L826.3 171.9 L826.6 172.4 L827.0 170.4 L827.3 171.9 L827.7 170.3 L828.0 171.3 L828.4 172.1 L828.7 171.8 L829.1 171.1 L829.5 172.3 L829.8 169.5 L830.2 172.3 L830.5 170.2 L830.9 171.5 L831.2 170.3 L831.6 170.7 L832.0 166.6 L832.3 170.2 L832.7 165.6 L833.0 169.9 L833.4 168.7 L833.8 168.3 L834.1 166.7 L834.5 165.6 L834.8 165.5 L835.2 166.4 L835.6 167.1 L835.9 167.4 L836.3 166.4 L836.6 167.3 L837.0 167.7 L837.3 169.0 L837.7 167.4 L838.0 166.8 L838.4 167.4 L838.7 165.0 L839.1 166.4 L839.4 165.6 L839.8 164.5 L840.1 164.3 L840.5 166.7 L840.8 164.3 L841.2 164.4 L841.5 163.9 L841.9 165.1 L842.2 164.8 L842.6 163.2 L842.9 165.4 L843.3 162.7 L843.6 163.0 L844.0 162.3 L844.3 164.6 L844.7 161.2 L845.0 161.3 L845.4 162.6 L845.7 161.8 L846.1 161.7 L846.5 161.9 L846.9 162.8 L847.2 162.2 L847.6 162.2 L848.0 159.5 L848.4 160.9 L848.8 162.2 L849.1 162.5 L849.5 163.0 L849.8 162.4 L850.2 161.4 L850.5 161.6 L850.9 162.2 L851.2 163.1 L851.6 163.7 L851.9 164.7 L852.3 163.3 L852.6 162.6 L853.0 163.0 L853.3 161.3 L853.7 164.6 L854.0 164.2 L854.4 164.5 L854.7 163.3 L855.1 163.8 L855.4 165.1 L855.8 164.8 L856.1 164.8 L856.5 164.0 L856.8 165.9 L857.2 167.2 L857.5 167.5 L857.9 168.0 L858.2 165.9 L858.6 167.2 L859.0 168.4 L859.3 165.3 L859.7 168.5 L860.0 166.7 L860.4 167.4 L860.7 167.6 L861.1 165.9 L861.4 168.0 L861.8 165.8 L862.1 166.9 L862.5 166.4 L862.9 166.8 L863.2 166.9 L863.6 164.8 L863.9 164.6 L864.3 164.9 L864.6 165.9 L865.0 166.5 L865.3 166.7 L865.7 164.5 L866.0 165.4 L866.4 165.6 L866.8 165.6 L867.1 164.7 L867.5 165.8 L867.8 165.0 L868.2 165.8 L868.5 167.9 L868.9 166.4 L869.2 165.1 L869.6 166.5 L869.9 168.1 L870.3 168.0 L870.7 167.1 L871.0 167.0 L871.4 168.0 L871.7 168.8 L872.1 167.3 L872.4 171.4 L872.8 170.4 L873.1 169.8 L873.5 170.1 L873.8 168.9 L874.2 169.5 L874.5 168.0 L874.9 169.9 L875.2 168.4 L875.6 167.6 L875.9 167.3 L876.3 167.5 L876.6 167.6 L877.0 166.0 L877.3 167.2 L877.6 169.2 L878.0 167.5 L878.3 168.6 L878.7 171.4 L879.0 170.4 L879.4 171.5 L879.7 173.4 L880.0 173.2 L880.4 172.0 L880.7 173.3 L881.0 173.6 L881.4 172.5 L881.7 173.6 L882.0 174.9 L882.4 172.2 L882.7 173.5 L883.1 172.3 L883.4 172.5 L883.7 172.6 L884.1 173.3 L884.4 173.4 L884.8 172.2 L885.1 173.2 L885.5 174.5 L885.8 172.9 L886.2 174.3 L886.5 172.9 L886.9 174.7 L887.2 174.7 L887.6 175.2 L887.9 175.2 L888.3 175.9 L888.6 176.6 L889.0 175.8 L889.3 176.6 L889.7 175.4 L890.0 174.8 L890.4 176.1 L890.7 174.5 L891.0 174.3 L891.4 174.6 L891.7 176.6 L892.1 177.2 L892.4 176.4 L892.7 179.1 L893.1 175.7 L893.4 177.2 L893.8 175.8 L894.1 177.3 L894.4 174.7 L894.8 174.5 L895.1 175.2 L895.4 176.7 L895.8 174.8 L896.1 175.0 L896.4 176.2 L896.8 175.5 L897.1 178.1 L897.5 178.6 L897.8 178.3 L898.2 179.8 L898.5 179.0 L898.9 182.0 L899.2 181.2 L899.5 180.9 L899.9 183.2 L900.2 182.4 L900.6 183.6 L900.9 185.4 L901.3 187.7 L901.6 188.4 L902.0 187.4 L902.3 189.0 L902.7 189.3 L903.1 191.5 L903.5 189.3 L903.9 191.4 L904.2 190.8 L904.6 192.7 L904.9 191.6 L905.2 192.5 L905.6 191.6 L905.9 190.8 L906.3 191.9 L906.6 192.9 L906.9 190.7 L907.3 193.0 L907.6 190.7 L907.9 191.0 L908.3 191.4 L908.6 192.4 L908.9 192.7 L909.3 191.8 L909.6 192.9 L910.0 191.8 L910.3 192.7 L910.6 191.0 L911.0 193.0 L911.3 191.9 L911.6 191.2 L912.0 193.7 L912.3 191.4 L912.6 191.8 L913.0 193.2 L913.3 191.4 L913.7 191.6 L914.0 189.7 L914.3 192.2 L914.7 192.7 L915.0 192.5 L915.3 192.9 L915.7 193.4 L916.0 191.8 L916.3 191.4 L916.7 192.0 L917.0 194.7 L917.3 194.4 L917.7 193.9 L918.0 195.0 L918.3 194.5 L918.7 193.0 L919.0 194.2 L919.3 195.2 L919.7 193.2 L920.0 194.5 L920.3 193.6 L920.7 192.9 L921.0 195.2 L921.3 192.7 L921.7 195.5 L922.0 193.4 L922.3 196.5 L922.7 194.1 L923.0 195.4 L923.3 195.2 L923.7 194.8 L924.0 194.3 L924.3 194.5 L924.7 196.5 L925.0 196.0 L925.3 197.4 L925.7 196.3 L926.0 196.3 L926.4 197.9 L926.7 197.0 L927.1 198.2 L927.4 198.1 L927.7 200.4 L928.1 200.1 L928.4 200.9 L928.8 201.6 L929.1 199.8 L929.5 201.7 L929.8 200.9 L930.1 201.1 L930.5 201.9 L930.8 202.9 L931.2 204.3 L931.5 205.7 L931.8 203.8 L932.2 205.5 L932.5 206.6 L932.9 205.1 L933.2 205.4 L933.6 205.7 L933.9 207.0 L934.2 208.4 L934.6 209.1 L934.9 207.4 L935.2 209.0 L935.6 209.0 L935.9 207.6 L936.2 208.2 L936.6 210.9 L936.9 210.0 L937.3 209.4 L937.6 210.8 L938.0 210.7 L938.4 211.6 L938.7 210.6 L939.1 212.2 L939.5 211.5 L939.9 210.7 L940.2 210.2 L940.6 210.7 L941.0 212.1 L941.4 214.6 L941.7 215.0 L942.1 216.7 L942.5 218.0 L942.9 215.2 L943.2 216.8 L943.6 214.8 L944.0 217.4 L944.4 216.0 L944.8 216.8 L945.1 217.2 L945.5 219.6 L945.9 219.7 L946.2 218.3 L946.6 217.4 L947.0 218.1 L947.4 220.9 L947.8 219.7 L948.1 220.2 L948.5 221.0 L948.9 223.4" fill="none" stroke="#3aa8d8" stroke-width="2.1" stroke-linejoin="round"/>
<path d="M90.9 387.9 L91.2 390.9 L91.6 392.4 L91.9 396.6 L92.2 395.1 L92.6 390.8 L92.9 388.8 L93.3 388.8 L93.7 389.2 L94.0 392.7 L94.4 394.3 L94.8 393.7 L95.1 395.2 L95.5 392.2 L95.8 393.6 L96.1 391.0 L96.5 393.9 L96.8 391.8 L97.2 395.0 L97.6 394.7 L97.9 397.5 L98.3 398.2 L98.7 401.5 L99.0 400.2 L99.4 401.4 L99.7 398.6 L100.0 400.6 L100.4 399.1 L100.7 400.7 L101.0 399.3 L101.4 396.5 L101.7 396.6 L102.1 398.1 L102.4 396.6 L102.8 396.8 L103.1 396.1 L103.5 399.6 L103.8 398.8 L104.2 399.5 L104.5 400.5 L104.9 401.0 L105.2 400.3 L105.6 399.6 L106.0 398.3 L106.3 398.6 L106.7 397.3 L107.0 397.9 L107.4 397.6 L107.7 399.4 L108.1 396.2 L108.4 398.4 L108.8 397.8 L109.1 400.3 L109.5 396.6 L109.9 396.6 L110.2 398.1 L110.6 398.6 L110.9 396.7 L111.3 395.9 L111.6 395.8 L112.0 396.8 L112.3 396.3 L112.7 397.0 L113.0 398.0 L113.4 398.6 L113.8 400.2 L114.1 398.6 L114.5 397.7 L114.8 398.5 L115.2 398.8 L115.5 395.4 L115.9 398.1 L116.2 396.4 L116.6 397.7 L116.9 394.8 L117.3 395.7 L117.6 394.0 L118.0 394.2 L118.3 393.9 L118.6 391.9 L119.0 390.8 L119.3 388.8 L119.7 387.3 L120.0 390.3 L120.4 388.6 L120.8 390.3 L121.1 388.3 L121.5 391.5 L121.8 389.2 L122.2 389.8 L122.6 390.5 L122.9 387.1 L123.3 387.8 L123.7 386.1 L124.0 385.6 L124.4 385.8 L124.7 383.2 L125.1 382.0 L125.4 381.1 L125.8 382.9 L126.1 384.5 L126.4 385.0 L126.8 381.8 L127.1 384.0 L127.5 383.6 L127.9 381.9 L128.2 379.9 L128.6 374.7 L129.0 374.2 L129.4 377.9 L129.8 379.5 L130.2 380.7 L130.6 384.0 L131.0 382.7 L131.4 379.7 L131.8 378.6 L132.1 379.7 L132.5 376.4 L132.9 376.1 L133.3 374.5 L133.6 377.2 L134.0 375.7 L134.3 376.0 L134.7 375.6 L135.0 375.9 L135.4 372.5 L135.7 373.8 L136.1 372.0 L136.4 374.2 L136.8 373.2 L137.1 373.4 L137.5 375.8 L137.8 375.2 L138.1 373.3 L138.5 374.5 L138.8 374.3 L139.1 374.3 L139.5 374.6 L139.8 376.1 L140.2 376.5 L140.5 376.8 L140.9 379.1 L141.2 379.4 L141.6 376.8 L142.0 376.9 L142.3 377.0 L142.7 379.1 L143.1 380.5 L143.4 377.5 L143.8 377.0 L144.1 376.7 L144.5 378.1 L144.9 374.2 L145.2 376.6 L145.6 375.2 L146.0 375.2 L146.3 373.8 L146.7 372.9 L147.1 373.9 L147.4 374.6 L147.8 371.7 L148.1 373.0 L148.5 371.3 L148.8 372.1 L149.2 373.2 L149.5 371.1 L149.8 370.1 L150.2 372.9 L150.5 370.1 L150.8 371.8 L151.2 373.5 L151.5 372.1 L151.8 372.6 L152.2 371.5 L152.5 372.2 L152.9 372.6 L153.2 371.2 L153.6 371.8 L153.9 373.9 L154.3 371.3 L154.7 373.5 L155.0 373.0 L155.4 372.2 L155.8 368.3 L156.1 371.2 L156.5 367.8 L156.9 366.9 L157.2 367.6 L157.6 367.4 L157.9 366.2 L158.3 363.4 L158.7 363.9 L159.0 359.7 L159.4 361.2 L159.8 356.9 L160.1 358.4 L160.5 358.0 L160.8 350.8 L161.2 353.7 L161.5 350.9 L161.9 352.5 L162.2 349.7 L162.5 350.7 L162.9 351.2 L163.2 350.4 L163.5 347.2 L163.9 345.7 L164.2 345.9 L164.6 346.7 L165.0 342.2 L165.3 341.0 L165.7 342.1 L166.1 340.0 L166.4 337.5 L166.8 332.9 L167.1 333.3 L167.4 329.3 L167.8 327.2 L168.1 324.2 L168.5 319.3 L168.9 316.7 L169.2 311.0 L169.6 305.0 L170.0 301.8 L170.4 309.6 L170.8 318.7 L171.2 323.0 L171.6 330.0 L172.0 329.4 L172.4 324.1 L172.7 321.0 L173.1 318.6 L173.5 313.5 L173.8 316.2 L174.2 314.7 L174.5 315.5 L174.9 318.6 L175.2 319.6 L175.6 320.1 L175.9 320.3 L176.3 320.7 L176.6 319.5 L177.0 319.9 L177.4 317.0 L177.7 315.6 L178.1 317.7 L178.4 317.1 L178.8 315.4 L179.2 317.6 L179.5 316.3 L179.9 315.6 L180.3 316.3 L180.6 316.9 L181.0 318.8 L181.4 318.7 L181.8 320.3 L182.1 322.0 L182.5 322.4 L182.8 322.3 L183.2 323.7 L183.5 327.3 L183.9 328.7 L184.3 328.0 L184.6 329.8 L185.0 331.3 L185.3 332.7 L185.7 332.0 L186.1 327.1 L186.6 325.2 L187.0 323.6 L187.3 323.1 L187.7 324.8 L188.0 323.0 L188.4 323.8 L188.7 325.4 L189.1 323.7 L189.4 325.2 L189.8 321.7 L190.1 323.3 L190.5 323.2 L190.8 323.6 L191.2 324.0 L191.6 320.3 L191.9 319.7 L192.2 320.8 L192.6 318.9 L192.9 319.7 L193.3 318.3 L193.7 317.7 L194.0 318.8 L194.3 318.9 L194.7 317.5 L195.1 316.7 L195.4 316.4 L195.8 318.2 L196.1 317.4 L196.5 315.8 L196.8 318.3 L197.2 318.8 L197.5 318.0 L197.9 317.0 L198.2 316.1 L198.6 317.7 L198.9 317.3 L199.2 319.0 L199.6 316.8 L200.0 317.7 L200.3 318.4 L200.6 319.7 L201.0 317.4 L201.3 316.0 L201.6 315.1 L202.0 312.4 L202.3 314.5 L202.7 311.9 L203.1 311.2 L203.4 310.0 L203.8 309.3 L204.2 305.7 L204.5 305.1 L204.9 304.7 L205.2 303.7 L205.5 304.3 L205.9 303.5 L206.2 300.8 L206.6 293.6 L207.1 289.2 L207.5 285.2 L207.9 279.7 L208.3 278.0 L208.7 275.1 L209.1 269.5 L209.5 267.8 L209.9 262.7 L210.3 261.5 L210.7 259.8 L211.1 261.7 L211.6 263.0 L212.0 267.6 L212.3 271.2 L212.7 272.8 L213.0 270.7 L213.3 276.7 L213.7 279.1 L214.0 279.3 L214.4 278.3 L214.8 273.5 L215.1 271.3 L215.5 267.4 L215.9 266.6 L216.2 268.7 L216.6 268.0 L216.9 265.9 L217.2 268.1 L217.6 269.7 L217.9 268.4 L218.2 266.8 L218.6 268.6 L218.9 268.6 L219.3 270.3 L219.6 267.4 L220.0 267.5 L220.4 270.3 L220.7 269.2 L221.1 269.5 L221.4 269.6 L221.8 269.5 L222.2 266.4 L222.5 270.4 L222.9 271.4 L223.2 272.4 L223.6 274.3 L224.0 274.7 L224.3 275.2 L224.7 277.3 L225.1 278.4 L225.4 276.8 L225.8 277.0 L226.1 274.6 L226.5 275.4 L226.9 276.5 L227.2 274.9 L227.6 275.4 L227.9 278.0 L228.3 275.8 L228.7 277.4 L229.0 279.8 L229.3 278.6 L229.7 277.3 L230.1 282.3 L230.4 283.1 L230.8 283.5 L231.1 282.8 L231.4 286.2 L231.8 284.9 L232.2 286.8 L232.5 288.0 L232.8 285.7 L233.2 284.7 L233.5 285.7 L233.8 283.8 L234.2 286.8 L234.5 283.2 L234.8 282.4 L235.2 283.6 L235.5 282.2 L235.9 281.2 L236.2 283.1 L236.6 285.0 L236.9 283.7 L237.3 282.9 L237.7 284.4 L238.0 284.0 L238.4 285.2 L238.8 285.5 L239.1 281.8 L239.5 280.8 L239.8 282.1 L240.2 282.2 L240.5 281.3 L240.9 276.8 L241.2 275.6 L241.6 277.3 L241.9 276.2 L242.3 274.4 L242.7 275.4 L243.0 276.7 L243.4 273.0 L243.7 276.0 L244.1 275.9 L244.4 277.0 L244.8 274.1 L245.1 276.5 L245.5 271.8 L245.8 277.7 L246.2 276.4 L246.5 275.7 L246.9 277.5 L247.2 276.8 L247.6 277.0 L247.9 276.7 L248.3 276.5 L248.6 275.7 L249.0 276.4 L249.3 275.3 L249.7 276.4 L250.0 276.1 L250.4 275.1 L250.7 275.5 L251.1 277.2 L251.4 276.5 L251.8 278.1 L252.1 276.4 L252.5 276.4 L252.8 277.1 L253.2 279.3 L253.5 279.4 L253.9 278.8 L254.2 278.8 L254.6 281.1 L254.9 279.4 L255.3 282.3 L255.6 282.4 L256.0 282.2 L256.4 283.2 L256.7 281.0 L257.1 281.1 L257.4 283.4 L257.8 285.4 L258.1 282.8 L258.5 282.5 L258.8 285.3 L259.2 284.1 L259.5 284.9 L259.9 285.2 L260.3 287.4 L260.6 287.9 L261.0 286.7 L261.3 289.6 L261.7 286.9 L262.0 290.6 L262.4 288.9 L262.7 291.7 L263.1 289.5 L263.4 290.9 L263.8 292.0 L264.1 293.3 L264.5 290.9 L264.8 290.0 L265.2 289.6 L265.5 288.3 L265.8 291.0 L266.2 290.3 L266.5 288.0 L266.9 290.5 L267.2 287.7 L267.6 289.6 L267.9 286.8 L268.2 287.8 L268.6 285.3 L268.9 287.4 L269.3 286.5 L269.6 286.1 L270.0 285.2 L270.3 286.3 L270.7 288.5 L271.0 289.1 L271.4 288.9 L271.7 288.1 L272.1 286.2 L272.4 289.5 L272.8 289.7 L273.1 290.8 L273.5 289.1 L273.9 288.9 L274.2 290.1 L274.6 291.3 L274.9 289.7 L275.3 288.8 L275.6 291.7 L276.0 292.9 L276.3 291.1 L276.7 289.5 L277.0 290.1 L277.4 292.0 L277.7 292.9 L278.1 293.6 L278.4 295.7 L278.7 295.5 L279.1 298.1 L279.4 300.7 L279.7 302.0 L280.1 301.1 L280.4 303.2 L280.7 302.5 L281.1 304.9 L281.4 306.6 L281.8 305.9 L282.2 303.2 L282.5 303.9 L282.9 300.8 L283.3 299.8 L283.7 299.3 L284.0 298.6 L284.4 300.8 L284.7 299.8 L285.1 301.5 L285.4 301.7 L285.8 301.4 L286.1 298.0 L286.4 301.4 L286.8 300.8 L287.2 300.3 L287.5 298.5 L287.9 299.8 L288.2 297.7 L288.6 296.7 L288.9 296.3 L289.3 296.3 L289.6 295.0 L290.0 296.4 L290.3 294.7 L290.7 294.9 L291.1 295.4 L291.4 296.7 L291.8 294.9 L292.1 297.6 L292.5 297.7 L292.8 296.8 L293.2 298.7 L293.5 296.2 L293.9 296.2 L294.2 300.3 L294.6 298.8 L294.9 298.3 L295.3 298.4 L295.6 300.2 L295.9 304.1 L296.3 302.3 L296.6 301.5 L296.9 300.6 L297.3 301.6 L297.6 302.7 L298.0 300.9 L298.3 300.5 L298.7 300.4 L299.0 300.8 L299.4 303.1 L299.7 302.6 L300.1 300.6 L300.4 299.7 L300.8 301.6 L301.1 299.0 L301.5 299.8 L301.9 301.6 L302.2 300.5 L302.6 298.8 L302.9 300.2 L303.3 300.3 L303.6 302.4 L304.0 301.7 L304.3 299.8 L304.7 300.5 L305.0 299.9 L305.4 301.2 L305.7 300.3 L306.1 300.5 L306.4 302.5 L306.8 301.3 L307.1 298.3 L307.5 300.0 L307.8 298.4 L308.2 297.0 L308.5 298.0 L308.8 298.9 L309.2 298.3 L309.5 298.3 L309.9 295.8 L310.2 296.3 L310.6 296.3 L310.9 295.4 L311.2 295.3 L311.6 298.0 L312.0 296.6 L312.3 295.7 L312.7 293.8 L313.0 294.5 L313.4 296.4 L313.8 296.6 L314.1 296.0 L314.5 294.1 L314.8 294.9 L315.2 295.3 L315.6 294.5 L315.9 297.9 L316.3 295.7 L316.6 298.0 L317.0 298.2 L317.3 298.6 L317.7 300.8 L318.0 304.0 L318.4 298.8 L318.7 301.5 L319.1 301.8 L319.5 300.6 L319.8 300.9 L320.2 300.5 L320.5 302.2 L320.9 301.4 L321.2 302.0 L321.6 300.0 L321.9 302.3 L322.3 302.7 L322.6 299.5 L323.0 301.2 L323.4 299.3 L323.7 299.1 L324.1 299.6 L324.4 300.2 L324.8 301.4 L325.1 298.5 L325.4 297.8 L325.8 298.0 L326.1 300.5 L326.5 298.0 L326.8 301.4 L327.2 300.5 L327.5 297.8 L327.9 298.4 L328.3 299.1 L328.6 295.9 L329.0 296.1 L329.3 293.8 L329.7 292.4 L330.0 291.3 L330.4 290.8 L330.7 289.8 L331.1 288.6 L331.4 285.5 L331.8 286.1 L332.2 288.8 L332.6 286.5 L332.9 290.2 L333.3 290.7 L333.7 292.0 L334.1 290.5 L334.4 291.4 L334.8 290.4 L335.1 289.7 L335.5 287.8 L335.9 288.0 L336.2 285.4 L336.6 286.1 L337.0 285.1 L337.3 285.0 L337.7 286.8 L338.0 286.3 L338.4 287.0 L338.7 287.1 L339.1 283.6 L339.4 284.7 L339.8 283.0 L340.1 283.6 L340.5 284.2 L340.8 284.0 L341.2 283.6 L341.5 284.2 L341.8 286.5 L342.2 286.4 L342.5 284.1 L342.8 285.4 L343.2 284.9 L343.5 287.4 L343.8 285.2 L344.2 286.6 L344.5 287.1 L344.9 288.9 L345.2 287.8 L345.6 286.0 L345.9 289.8 L346.3 288.7 L346.7 286.9 L347.0 287.3 L347.4 289.1 L347.8 289.5 L348.1 287.1 L348.5 287.7 L348.9 284.2 L349.2 285.3 L349.6 285.3 L349.9 284.7 L350.3 285.7 L350.7 285.5 L351.0 284.8 L351.4 284.2 L351.7 284.5 L352.1 285.8 L352.4 287.7 L352.8 284.6 L353.1 286.8 L353.5 285.6 L353.8 285.4 L354.2 286.7 L354.5 285.7 L354.9 285.7 L355.2 287.0 L355.6 287.6 L355.9 285.2 L356.3 286.2 L356.6 287.0 L357.0 285.6 L357.3 285.0 L357.7 287.4 L358.0 287.5 L358.4 286.9 L358.7 284.4 L359.1 286.1 L359.4 285.6 L359.8 286.7 L360.1 285.2 L360.4 284.2 L360.8 283.9 L361.1 286.0 L361.5 285.7 L361.8 285.0 L362.1 285.8 L362.5 282.2 L362.8 284.6 L363.2 284.5 L363.5 285.9 L363.9 284.6 L364.2 285.0 L364.5 286.7 L364.9 286.0 L365.2 284.7 L365.6 283.8 L365.9 284.8 L366.2 284.7 L366.6 284.3 L366.9 281.1 L367.2 281.0 L367.6 279.7 L367.9 279.3 L368.3 279.6 L368.6 277.8 L369.0 274.6 L369.4 273.7 L369.7 272.2 L370.1 273.6 L370.4 273.0 L370.8 270.5 L371.2 272.4 L371.5 270.5 L371.9 270.0 L372.3 272.0 L372.6 276.3 L373.0 271.4 L373.4 272.8 L373.8 274.4 L374.1 272.8 L374.5 275.8 L374.8 275.2 L375.2 274.6 L375.5 275.2 L375.9 277.5 L376.3 277.6 L376.6 278.5 L377.0 277.6 L377.3 278.3 L377.7 277.3 L378.1 277.5 L378.4 277.0 L378.8 278.2 L379.1 278.6 L379.5 277.9 L379.8 278.8 L380.2 276.9 L380.5 277.1 L380.9 277.0 L381.2 279.4 L381.6 277.7 L381.9 278.3 L382.3 278.6 L382.6 277.3 L383.0 276.6 L383.3 277.7 L383.7 276.1 L384.0 278.6 L384.3 275.5 L384.7 276.2 L385.0 278.8 L385.4 277.9 L385.7 275.3 L386.1 275.2 L386.4 276.4 L386.7 276.1 L387.1 276.0 L387.4 277.9 L387.8 277.3 L388.1 276.2 L388.5 274.9 L388.8 275.2 L389.2 275.5 L389.5 275.8 L389.9 274.0 L390.2 273.2 L390.6 273.2 L390.9 276.2 L391.3 276.6 L391.6 275.0 L392.0 272.6 L392.3 274.4 L392.7 273.0 L393.0 271.8 L393.4 272.7 L393.8 272.4 L394.1 273.3 L394.5 272.3 L394.8 271.9 L395.2 271.1 L395.5 273.0 L395.9 269.1 L396.2 271.5 L396.6 272.4 L396.9 272.2 L397.3 270.8 L397.6 269.6 L398.0 270.8 L398.3 270.4 L398.7 270.4 L399.0 270.3 L399.4 268.1 L399.7 270.1 L400.1 271.7 L400.4 269.6 L400.8 269.7 L401.1 269.5 L401.5 270.7 L401.8 266.6 L402.2 265.9 L402.5 265.2 L402.9 267.6 L403.2 265.3 L403.6 266.0 L403.9 265.0 L404.3 264.3 L404.6 264.4 L405.0 262.7 L405.3 262.5 L405.7 263.9 L406.0 266.4 L406.3 266.2 L406.7 268.5 L407.0 267.6 L407.4 265.1 L407.7 268.6 L408.1 267.9 L408.4 266.4 L408.8 264.1 L409.1 264.1 L409.5 264.3 L409.8 265.1 L410.2 265.6 L410.5 262.6 L410.9 263.7 L411.3 264.4 L411.6 264.4 L412.0 261.0 L412.3 264.9 L412.7 259.4 L413.0 261.6 L413.4 261.3 L413.7 258.7 L414.1 260.6 L414.4 259.1 L414.8 257.8 L415.2 259.8 L415.5 258.1 L415.9 259.8 L416.2 261.7 L416.6 259.9 L416.9 262.2 L417.3 263.2 L417.6 262.0 L418.0 262.5 L418.3 263.8 L418.7 264.6 L419.1 262.8 L419.4 263.0 L419.8 261.8 L420.1 263.7 L420.5 262.8 L420.9 260.7 L421.2 262.7 L421.6 260.7 L422.0 260.1 L422.3 258.5 L422.7 260.8 L423.0 260.4 L423.4 259.7 L423.7 258.1 L424.1 257.3 L424.4 256.7 L424.8 256.6 L425.1 257.7 L425.5 256.8 L425.8 255.9 L426.2 257.8 L426.5 255.9 L426.8 254.3 L427.2 253.3 L427.5 255.5 L427.9 253.8 L428.2 253.6 L428.5 254.6 L428.9 252.4 L429.2 253.0 L429.5 253.8 L429.9 251.0 L430.2 250.5 L430.6 250.8 L430.9 252.2 L431.2 250.1 L431.6 248.3 L431.9 249.9 L432.2 248.6 L432.6 246.7 L432.9 249.5 L433.3 249.1 L433.6 248.4 L433.9 246.7 L434.3 247.8 L434.6 244.6 L434.9 244.7 L435.3 245.1 L435.6 246.6 L436.0 245.2 L436.3 242.7 L436.6 244.0 L437.0 243.3 L437.3 242.8 L437.6 242.4 L438.0 244.1 L438.3 242.1 L438.7 240.6 L439.0 241.1 L439.3 242.7 L439.7 239.2 L440.0 240.0 L440.3 238.1 L440.7 240.1 L441.0 237.4 L441.3 237.8 L441.7 237.6 L442.0 233.0 L442.3 237.3 L442.7 237.7 L443.0 234.7 L443.3 235.2 L443.7 233.4 L444.0 233.9 L444.3 235.7 L444.7 232.1 L445.0 231.4 L445.3 230.7 L445.7 231.3 L446.0 230.4 L446.3 230.9 L446.7 229.6 L447.0 228.3 L447.3 229.7 L447.7 229.1 L448.0 227.3 L448.3 228.9 L448.7 226.5 L449.0 227.6 L449.3 225.2 L449.7 226.3 L450.0 225.9 L450.3 225.5 L450.7 225.3 L451.0 223.0 L451.3 221.0 L451.7 220.6 L452.0 222.0 L452.3 221.1 L452.7 220.3 L453.0 221.7 L453.3 221.1 L453.7 217.8 L454.0 218.0 L454.3 216.7 L454.7 218.9 L455.0 218.3 L455.3 218.2 L455.7 215.6 L456.0 216.7 L456.3 214.6 L456.7 214.7 L457.0 214.3 L457.3 214.7 L457.7 214.8 L458.0 214.4 L458.3 211.3 L458.7 212.5 L459.0 212.0 L459.4 211.9 L459.7 207.8 L460.1 207.8 L460.4 204.3 L460.8 205.5 L461.2 200.4 L461.5 199.1 L461.9 198.6 L462.4 196.8 L462.8 191.8 L463.1 195.4 L463.5 190.8 L463.8 192.3 L464.1 192.2 L464.5 192.7 L464.8 194.7 L465.2 192.0 L465.7 191.2 L466.0 191.7 L466.4 192.8 L466.7 194.3 L467.0 195.9 L467.4 195.2 L467.7 195.7 L468.1 195.6 L468.5 198.4 L468.8 195.8 L469.2 199.6 L469.6 198.6 L469.9 201.4 L470.3 200.6 L470.6 200.7 L471.0 202.9 L471.3 203.7 L471.7 206.0 L472.0 205.0 L472.4 206.6 L472.7 204.4 L473.1 205.9 L473.4 206.7 L473.8 207.2 L474.1 211.0 L474.5 210.3 L474.8 206.9 L475.2 205.6 L475.5 203.5 L475.8 203.3 L476.2 206.2 L476.5 206.6 L476.8 204.0 L477.2 207.3 L477.5 206.0 L477.9 208.6 L478.3 209.4 L478.6 207.9 L479.0 209.1 L479.4 211.9 L479.8 213.6 L480.1 214.3 L480.4 215.4 L480.8 219.2 L481.1 217.2 L481.5 218.1 L481.8 217.9 L482.2 218.5 L482.6 217.6 L482.9 218.3 L483.2 215.8 L483.6 217.0 L483.9 212.8 L484.3 214.5 L484.6 210.9 L485.0 212.0 L485.3 211.0 L485.7 211.8 L486.0 208.0 L486.3 208.2 L486.7 205.0 L487.0 208.6 L487.3 205.5 L487.7 206.9 L488.0 205.5 L488.3 204.5 L488.7 208.3 L489.0 206.3 L489.3 209.5 L489.7 209.8 L490.0 209.4 L490.3 210.8 L490.7 209.5 L491.0 210.0 L491.4 211.2 L491.8 210.9 L492.1 213.2 L492.5 214.7 L492.8 214.1 L493.2 216.2 L493.5 217.7 L493.8 216.6 L494.2 215.9 L494.5 215.9 L494.9 216.4 L495.2 216.5 L495.5 218.8 L495.9 220.1 L496.2 219.8 L496.5 220.5 L496.9 220.1 L497.2 219.1 L497.6 219.7 L497.9 217.7 L498.3 219.3 L498.6 216.2 L499.0 215.9 L499.3 218.2 L499.7 218.0 L500.0 216.6 L500.4 216.3 L500.7 216.0 L501.1 215.2 L501.4 215.3 L501.8 212.2 L502.1 212.8 L502.4 212.7 L502.8 211.9 L503.2 212.3 L503.5 213.1 L503.9 212.8 L504.2 217.3 L504.6 215.9 L504.9 216.4 L505.3 215.8 L505.6 220.3 L506.0 219.4 L506.3 218.7 L506.7 216.6 L507.0 219.2 L507.3 216.3 L507.6 218.0 L508.0 215.8 L508.3 217.0 L508.6 216.7 L509.0 215.1 L509.3 214.2 L509.7 215.7 L510.1 214.1 L510.4 217.1 L510.8 218.1 L511.2 217.5 L511.6 217.4 L511.9 219.2 L512.2 215.8 L512.6 217.1 L512.9 219.1 L513.3 215.8 L513.6 216.7 L514.0 216.5 L514.4 218.5 L514.7 218.1 L515.0 218.9 L515.4 216.4 L515.8 215.5 L516.1 217.6 L516.4 216.4 L516.8 217.0 L517.1 213.6 L517.5 215.8 L517.8 217.6 L518.2 217.2 L518.5 217.6 L518.9 218.4 L519.2 216.3 L519.6 219.0 L520.0 216.1 L520.3 216.3 L520.6 217.0 L521.0 217.5 L521.3 218.5 L521.7 219.8 L522.0 223.1 L522.4 224.6 L522.7 226.1 L523.1 226.3 L523.4 226.9 L523.8 226.9 L524.1 230.3 L524.5 230.5 L524.8 230.7 L525.1 230.2 L525.5 233.2 L525.9 231.4 L526.2 234.3 L526.5 233.5 L526.9 232.3 L527.2 234.1 L527.6 231.6 L527.9 230.9 L528.3 230.6 L528.6 231.9 L529.0 231.8 L529.3 228.2 L529.7 226.1 L530.0 228.7 L530.3 229.1 L530.7 229.6 L531.0 228.5 L531.4 230.8 L531.7 228.3 L532.0 229.4 L532.4 229.1 L532.7 230.3 L533.1 230.3 L533.4 230.2 L533.7 233.6 L534.1 232.7 L534.4 231.3 L534.8 234.5 L535.1 232.8 L535.4 233.7 L535.8 231.2 L536.1 234.0 L536.5 230.8 L536.8 232.5 L537.1 230.5 L537.5 230.0 L537.8 230.4 L538.2 231.1 L538.5 231.9 L538.9 230.7 L539.2 233.7 L539.5 228.8 L539.9 230.7 L540.2 228.7 L540.6 231.4 L540.9 229.8 L541.3 228.2 L541.6 230.8 L542.0 228.2 L542.3 228.7 L542.7 228.0 L543.0 227.8 L543.4 229.4 L543.7 228.8 L544.1 227.4 L544.4 230.7 L544.8 228.9 L545.1 229.8 L545.5 227.5 L545.8 226.9 L546.1 224.9 L546.5 226.6 L546.8 223.9 L547.1 221.9 L547.5 223.9 L547.8 222.0 L548.2 223.3 L548.5 220.1 L548.9 222.1 L549.2 220.4 L549.6 222.1 L550.0 221.8 L550.3 219.6 L550.7 220.1 L551.1 220.2 L551.4 217.7 L551.8 217.0 L552.1 217.6 L552.5 215.1 L552.8 216.3 L553.2 213.1 L553.5 211.8 L553.9 210.2 L554.2 211.3 L554.6 210.3 L555.0 209.9 L555.3 209.5 L555.7 210.4 L556.0 206.7 L556.4 208.2 L556.7 207.9 L557.1 204.8 L557.4 203.7 L557.8 204.2 L558.1 206.1 L558.5 204.5 L558.9 204.2 L559.2 204.7 L559.6 203.3 L560.0 204.8 L560.3 203.3 L560.7 203.2 L561.0 203.1 L561.4 201.5 L561.7 203.5 L562.1 202.2 L562.4 204.0 L562.7 205.1 L563.1 207.3 L563.4 204.1 L563.7 203.1 L564.1 205.8 L564.4 205.4 L564.8 204.7 L565.1 205.6 L565.5 201.4 L565.8 205.0 L566.2 203.6 L566.5 202.7 L566.9 205.5 L567.2 203.8 L567.6 204.3 L567.9 205.6 L568.3 203.5 L568.7 204.7 L569.0 202.3 L569.4 203.7 L569.7 204.2 L570.1 206.2 L570.4 204.0 L570.8 203.4 L571.1 203.8 L571.5 205.1 L571.8 206.4 L572.2 206.4 L572.6 205.9 L572.9 207.7 L573.3 207.1 L573.6 206.6 L574.0 207.4 L574.3 206.7 L574.7 209.8 L575.0 209.8 L575.4 207.5 L575.7 210.0 L576.1 209.3 L576.5 207.7 L576.8 207.8 L577.1 209.5 L577.5 210.4 L577.9 210.6 L578.2 208.1 L578.5 210.7 L578.9 210.1 L579.2 208.9 L579.6 210.6 L580.0 207.0 L580.3 210.5 L580.6 210.3 L581.0 208.4 L581.4 206.9 L581.7 208.3 L582.0 209.1 L582.4 211.8 L582.8 212.0 L583.1 212.2 L583.5 210.5 L583.8 210.7 L584.1 212.5 L584.5 213.4 L584.9 211.3 L585.2 211.7 L585.5 213.2 L585.9 214.2 L586.3 212.6 L586.6 215.6 L587.0 215.7 L587.3 216.3 L587.7 213.8 L588.0 216.7 L588.4 215.5 L588.7 214.6 L589.1 216.4 L589.4 216.5 L589.8 215.2 L590.2 215.1 L590.5 212.9 L590.9 213.6 L591.2 213.1 L591.6 212.7 L591.9 208.8 L592.3 210.6 L592.6 212.9 L593.0 212.7 L593.3 208.8 L593.7 210.3 L594.1 210.4 L594.4 207.8 L594.8 208.4 L595.1 211.1 L595.5 207.2 L595.8 207.1 L596.2 208.1 L596.5 207.4 L596.9 207.7 L597.2 207.1 L597.6 206.5 L597.9 205.7 L598.2 207.2 L598.6 206.4 L599.0 208.3 L599.3 207.9 L599.7 206.7 L600.0 207.9 L600.4 207.6 L600.7 208.7 L601.1 207.9 L601.4 208.4 L601.8 210.4 L602.1 209.3 L602.5 209.3 L602.9 210.1 L603.2 214.2 L603.6 215.9 L603.9 216.7 L604.3 218.8 L604.6 222.5 L605.0 223.0 L605.4 221.2 L605.8 219.0 L606.1 219.5 L606.5 219.0 L606.9 218.0 L607.3 216.2 L607.7 212.0 L608.0 215.0 L608.4 215.6 L608.7 213.9 L609.1 214.5 L609.5 214.0 L609.8 214.5 L610.2 215.1 L610.5 211.4 L610.9 215.0 L611.2 213.2 L611.6 210.9 L612.0 212.8 L612.3 210.3 L612.7 211.0 L613.0 210.7 L613.4 212.5 L613.8 211.8 L614.1 210.5 L614.5 207.4 L614.8 209.5 L615.2 208.4 L615.5 207.6 L615.9 210.0 L616.2 206.3 L616.6 207.6 L616.9 210.0 L617.2 209.3 L617.6 207.2 L617.9 208.8 L618.3 209.0 L618.6 206.3 L619.0 204.0 L619.3 209.0 L619.6 206.6 L620.0 206.1 L620.3 205.5 L620.7 207.1 L621.0 207.4 L621.3 208.6 L621.7 209.3 L622.0 209.1 L622.4 205.7 L622.7 206.3 L623.1 206.8 L623.4 205.6 L623.8 205.9 L624.1 207.4 L624.5 207.5 L624.8 206.7 L625.2 208.4 L625.5 209.0 L625.9 208.8 L626.2 207.7 L626.6 207.7 L626.9 207.4 L627.3 205.3 L627.6 204.8 L628.0 207.8 L628.3 205.7 L628.7 205.6 L629.0 204.7 L629.4 203.9 L629.7 202.2 L630.1 204.0 L630.4 203.8 L630.8 201.5 L631.2 200.9 L631.5 200.5 L631.9 202.8 L632.2 204.6 L632.6 203.9 L633.0 204.9 L633.3 202.1 L633.7 204.5 L634.0 205.4 L634.4 202.5 L634.7 204.4 L635.0 201.6 L635.4 201.3 L635.7 202.6 L636.0 200.9 L636.4 201.6 L636.7 202.0 L637.0 201.4 L637.3 205.0 L637.7 201.6 L638.0 199.0 L638.3 201.0 L638.7 202.2 L639.0 199.2 L639.3 200.7 L639.7 199.5 L640.0 200.0 L640.3 200.4 L640.7 199.9 L641.0 197.5 L641.3 202.0 L641.7 200.3 L642.0 199.5 L642.3 197.5 L642.7 199.3 L643.0 198.9 L643.3 199.1 L643.7 197.4 L644.0 195.7 L644.3 194.9 L644.7 195.0 L645.0 196.0 L645.3 194.3 L645.7 195.0 L646.0 195.1 L646.3 191.7 L646.7 190.8 L647.0 191.3 L647.4 189.3 L647.7 189.5 L648.1 190.1 L648.4 187.7 L648.8 188.3 L649.1 183.9 L649.5 187.4 L649.8 187.4 L650.2 186.1 L650.5 184.5 L650.9 184.5 L651.2 183.2 L651.6 182.8 L651.9 183.7 L652.3 181.0 L652.6 180.5 L653.0 180.9 L653.3 177.0 L653.6 177.0 L654.0 177.5 L654.3 176.3 L654.7 174.2 L655.0 174.5 L655.4 174.7 L655.7 171.8 L656.0 171.2 L656.4 172.4 L656.7 172.6 L657.0 171.2 L657.4 173.5 L657.7 172.2 L658.0 172.3 L658.4 174.2 L658.7 174.7 L659.1 173.9 L659.4 172.7 L659.8 170.4 L660.1 173.4 L660.5 170.1 L660.8 170.9 L661.2 170.3 L661.5 164.9 L661.9 167.0 L662.2 166.2 L662.6 165.9 L663.0 165.3 L663.3 167.0 L663.7 165.2 L664.0 163.8 L664.4 168.3 L664.7 164.1 L665.1 164.4 L665.4 163.6 L665.8 164.4 L666.1 161.5 L666.5 162.0 L666.9 160.7 L667.2 161.7 L667.5 160.0 L667.9 162.6 L668.2 160.9 L668.6 162.0 L669.0 159.5 L669.3 160.3 L669.6 160.6 L670.0 160.5 L670.4 159.0 L670.7 158.5 L671.0 161.6 L671.4 160.0 L671.8 161.7 L672.1 160.4 L672.5 159.2 L672.8 162.7 L673.2 161.3 L673.6 162.9 L673.9 162.1 L674.3 162.0 L674.7 163.5 L675.1 161.0 L675.5 162.0 L675.9 161.8 L676.2 162.0 L676.6 161.8 L677.0 164.6 L677.4 167.0 L677.7 168.6 L678.1 166.4 L678.5 169.1 L678.8 171.6 L679.2 171.8 L679.6 170.6 L679.9 174.1 L680.2 172.2 L680.6 172.5 L681.0 174.0 L681.3 172.2 L681.7 171.3 L682.0 171.8 L682.4 173.4 L682.7 172.8 L683.1 173.0 L683.4 170.5 L683.8 174.0 L684.1 174.7 L684.4 174.3 L684.8 173.3 L685.1 175.5 L685.5 175.8 L685.8 175.0 L686.2 176.7 L686.5 174.6 L686.8 175.4 L687.2 178.4 L687.5 178.2 L687.9 178.1 L688.2 177.1 L688.6 177.8 L688.9 177.6 L689.2 175.4 L689.6 175.9 L689.9 175.8 L690.2 168.8 L690.6 171.3 L690.9 172.6 L691.2 171.2 L691.6 169.2 L691.9 167.9 L692.2 165.9 L692.6 168.2 L692.9 167.8 L693.3 166.5 L693.6 165.9 L694.0 166.5 L694.3 167.6 L694.7 169.2 L695.0 166.2 L695.4 168.6 L695.8 166.9 L696.1 169.0 L696.4 165.7 L696.8 166.9 L697.1 166.4 L697.5 168.2 L697.8 167.6 L698.2 168.1 L698.5 167.8 L698.9 167.3 L699.2 168.4 L699.5 167.5 L699.9 168.8 L700.2 168.0 L700.6 170.8 L700.9 168.4 L701.3 170.1 L701.6 169.8 L701.9 172.2 L702.3 167.4 L702.6 167.9 L702.9 165.8 L703.3 166.2 L703.6 163.0 L703.9 162.8 L704.3 164.2 L704.6 162.0 L705.0 163.4 L705.3 163.1 L705.7 161.3 L706.0 160.8 L706.4 160.6 L706.7 159.1 L707.1 160.6 L707.4 159.8 L707.8 160.7 L708.1 157.5 L708.5 159.1 L708.9 159.8 L709.2 159.8 L709.6 159.7 L709.9 160.9 L710.3 157.4 L710.6 161.4 L711.0 162.4 L711.3 163.4 L711.7 163.5 L712.0 162.5 L712.4 163.0 L712.8 162.7 L713.1 165.2 L713.5 162.1 L713.8 164.6 L714.2 165.2 L714.5 163.5 L714.9 164.2 L715.2 164.4 L715.6 164.4 L715.9 167.1 L716.3 166.9 L716.6 168.4 L717.0 169.2 L717.4 169.9 L717.7 166.9 L718.0 167.7 L718.4 169.5 L718.8 169.8 L719.1 170.9 L719.5 170.5 L719.8 170.7 L720.1 170.4 L720.5 171.8 L720.9 170.6 L721.2 172.7 L721.5 174.5 L721.9 173.6 L722.2 170.7 L722.6 173.7 L722.9 170.3 L723.2 172.5 L723.6 172.6 L723.9 170.5 L724.3 170.2 L724.6 173.0 L725.0 171.5 L725.3 171.3 L725.6 171.5 L726.0 169.8 L726.3 175.6 L726.7 171.5 L727.0 170.8 L727.3 172.2 L727.7 171.9 L728.0 171.0 L728.4 169.6 L728.7 170.7 L729.1 171.8 L729.4 170.0 L729.8 168.6 L730.1 171.0 L730.5 170.4 L730.8 168.4 L731.2 170.8 L731.5 170.0 L731.9 168.9 L732.2 169.3 L732.6 171.5 L732.9 169.8 L733.3 169.2 L733.6 168.7 L734.0 168.9 L734.3 172.7 L734.7 170.6 L735.0 173.1 L735.4 173.0 L735.7 170.2 L736.1 172.8 L736.4 172.1 L736.8 172.7 L737.2 173.3 L737.5 175.4 L737.9 172.3 L738.2 175.4 L738.6 173.7 L738.9 177.5 L739.3 176.3 L739.6 175.8 L740.0 175.8 L740.3 179.0 L740.7 178.6 L741.1 179.8 L741.4 180.2 L741.8 180.9 L742.1 179.5 L742.5 180.7 L742.8 180.3 L743.2 179.2 L743.5 181.4 L743.9 179.3 L744.2 178.6 L744.6 180.5 L744.9 181.1 L745.3 184.9 L745.6 184.0 L745.9 185.9 L746.3 186.8 L746.6 188.4 L746.9 190.0 L747.3 188.1 L747.6 186.3 L748.0 187.6 L748.3 187.1 L748.7 188.9 L749.0 188.4 L749.3 188.1 L749.7 185.5 L750.0 187.3 L750.4 185.7 L750.7 185.9 L751.1 187.4 L751.4 185.4 L751.8 184.0 L752.1 184.9 L752.4 183.8 L752.8 185.1 L753.1 185.0 L753.5 185.1 L753.8 185.0 L754.2 185.6 L754.5 185.2 L754.9 186.3 L755.2 186.8 L755.6 184.6 L755.9 184.9 L756.3 186.4 L756.7 185.5 L757.0 186.5 L757.4 186.4 L757.7 186.5 L758.1 188.9 L758.4 187.5 L758.8 189.6 L759.1 189.7 L759.5 189.4 L759.8 189.4 L760.2 190.3 L760.5 189.7 L760.9 188.5 L761.2 191.6 L761.6 189.6 L761.9 189.0 L762.3 188.5 L762.6 189.9 L763.0 191.7 L763.3 191.5 L763.7 187.8 L764.0 191.6 L764.4 190.1 L764.7 189.3 L765.1 188.1 L765.4 188.5 L765.8 190.8 L766.1 189.3 L766.5 190.8 L766.8 189.6 L767.1 190.6 L767.5 189.9 L767.9 188.6 L768.2 189.2 L768.5 190.6 L768.9 188.0 L769.2 190.5 L769.6 189.8 L770.0 185.5 L770.3 189.3 L770.6 189.2 L771.0 189.3 L771.3 189.3 L771.7 189.9 L772.0 188.8 L772.3 191.4 L772.7 190.7 L773.0 193.7 L773.3 191.9 L773.7 193.1 L774.0 191.5 L774.3 192.4 L774.7 192.3 L775.0 191.6 L775.3 195.6 L775.7 196.2 L776.0 196.0 L776.3 193.7 L776.7 195.3 L777.0 193.2 L777.3 194.6 L777.7 193.9 L778.0 194.3 L778.3 194.5 L778.7 194.1 L779.0 193.8 L779.4 191.8 L779.7 191.9 L780.0 193.3 L780.4 192.0 L780.7 192.9 L781.0 192.8 L781.4 191.9 L781.7 190.3 L782.1 191.1 L782.4 189.1 L782.8 189.9 L783.1 188.3 L783.5 185.8 L783.8 186.8 L784.2 188.0 L784.5 187.6 L784.9 184.1 L785.2 185.7 L785.6 184.5 L786.0 184.9 L786.3 186.3 L786.6 184.7 L787.0 184.1 L787.4 182.9 L787.7 186.2 L788.0 184.7 L788.4 182.9 L788.8 184.7 L789.1 186.0 L789.5 185.5 L789.8 184.4 L790.1 183.2 L790.5 184.5 L790.9 184.1 L791.2 183.4 L791.6 184.6 L791.9 182.4 L792.3 182.2 L792.6 181.3 L793.0 181.4 L793.3 185.2 L793.7 180.7 L794.0 178.9 L794.4 179.6 L794.8 178.4 L795.1 180.9 L795.4 177.6 L795.8 179.4 L796.1 178.5 L796.5 178.9 L796.8 179.5 L797.2 179.1 L797.5 177.3 L797.9 178.1 L798.2 179.3 L798.6 179.2 L798.9 177.4 L799.3 178.6 L799.6 180.0 L800.0 178.6 L800.3 179.0 L800.6 179.5 L801.0 180.5 L801.3 180.1 L801.7 179.7 L802.0 180.6 L802.3 181.4 L802.7 179.5 L803.0 182.4 L803.4 182.4 L803.7 184.9 L804.0 179.1 L804.4 179.7 L804.7 181.2 L805.0 179.5 L805.4 181.2 L805.7 181.9 L806.1 183.2 L806.4 184.4 L806.8 181.5 L807.1 184.7 L807.5 183.4 L807.8 183.6 L808.1 182.3 L808.5 181.2 L808.8 181.1 L809.2 181.4 L809.5 178.9 L809.9 180.0 L810.2 178.3 L810.6 178.3 L810.9 178.1 L811.2 178.5 L811.6 177.4 L811.9 176.3 L812.2 178.5 L812.6 177.7 L812.9 178.4 L813.2 176.8 L813.6 177.6 L813.9 177.7 L814.3 177.6 L814.6 178.2 L814.9 179.7 L815.3 179.1 L815.6 178.9 L815.9 183.2 L816.3 177.9 L816.6 179.7 L816.9 179.2 L817.3 180.8 L817.6 181.8 L818.0 180.1 L818.3 182.6 L818.6 179.7 L819.0 180.7 L819.3 182.7 L819.6 183.9 L820.0 184.5 L820.3 182.8 L820.6 183.0 L821.0 183.3 L821.3 182.5 L821.6 181.2 L822.0 183.6 L822.3 182.9 L822.6 182.1 L823.0 182.6 L823.3 181.3 L823.7 180.5 L824.0 179.9 L824.3 182.8 L824.7 184.1 L825.0 181.2 L825.3 182.7 L825.7 182.9 L826.0 180.9 L826.3 181.2 L826.7 179.4 L827.0 178.8 L827.4 182.2 L827.7 182.7 L828.0 179.5 L828.4 180.0 L828.7 179.0 L829.0 181.8 L829.4 181.3 L829.7 180.5 L830.1 178.1 L830.5 179.6 L830.9 176.3 L831.2 176.7 L831.6 171.7 L832.0 175.0 L832.3 173.3 L832.7 173.1 L833.0 175.6 L833.4 174.4 L833.7 174.5 L834.1 175.7 L834.4 175.5 L834.8 173.1 L835.1 173.9 L835.4 173.8 L835.8 174.8 L836.1 172.7 L836.5 170.9 L836.8 173.4 L837.2 172.8 L837.5 171.9 L837.8 171.7 L838.2 172.1 L838.5 171.4 L838.8 171.8 L839.2 170.5 L839.5 170.0 L839.9 172.5 L840.2 169.5 L840.5 172.5 L840.9 172.7 L841.2 169.9 L841.5 169.5 L841.9 168.5 L842.2 170.3 L842.6 170.3 L842.9 169.2 L843.3 170.1 L843.6 169.4 L844.0 172.2 L844.3 169.3 L844.7 172.7 L845.0 170.7 L845.4 169.9 L845.7 175.9 L846.1 171.9 L846.5 173.1 L846.8 169.2 L847.2 171.2 L847.5 170.9 L847.9 168.7 L848.2 168.2 L848.6 169.4 L848.9 169.0 L849.3 169.6 L849.6 167.7 L850.0 167.2 L850.4 166.5 L850.7 165.9 L851.1 165.1 L851.4 162.4 L851.8 165.1 L852.1 161.8 L852.5 162.6 L852.8 161.4 L853.2 161.6 L853.5 160.2 L853.9 159.4 L854.3 159.1 L854.7 156.5 L855.1 155.9 L855.5 155.5 L855.8 154.9 L856.2 156.9 L856.5 157.1 L856.9 155.2 L857.2 158.6 L857.6 158.5 L857.9 156.6 L858.3 158.8 L858.6 157.8 L859.0 157.4 L859.3 159.1 L859.7 160.1 L860.0 157.4 L860.4 156.9 L860.7 158.5 L861.1 159.2 L861.4 160.2 L861.8 158.8 L862.1 159.3 L862.5 160.2 L862.8 163.1 L863.2 161.4 L863.5 158.7 L863.9 158.1 L864.2 159.9 L864.6 157.3 L864.9 158.6 L865.3 157.4 L865.6 158.6 L866.0 156.8 L866.3 159.4 L866.7 159.4 L867.0 157.3 L867.4 158.7 L867.7 156.9 L868.1 159.8 L868.4 157.2 L868.8 156.6 L869.1 157.4 L869.5 157.8 L869.9 156.5 L870.2 158.5 L870.6 157.9 L870.9 155.2 L871.3 159.2 L871.6 158.2 L872.0 158.5 L872.3 160.7 L872.7 160.2 L873.0 161.4 L873.4 160.6 L873.7 162.3 L874.1 162.3 L874.4 160.1 L874.8 163.0 L875.1 165.7 L875.5 162.4 L875.8 163.3 L876.2 163.1 L876.6 162.3 L877.0 162.0 L877.3 158.3 L877.7 159.0 L878.1 158.6 L878.5 158.4 L878.8 158.3 L879.2 160.8 L879.5 160.8 L879.9 159.7 L880.2 161.0 L880.6 158.7 L880.9 160.7 L881.3 159.9 L881.6 161.0 L882.0 160.9 L882.4 162.7 L882.7 162.4 L883.1 162.6 L883.4 163.8 L883.8 162.4 L884.1 160.6 L884.5 163.3 L884.8 161.7 L885.2 163.9 L885.5 164.7 L885.9 163.3 L886.3 164.2 L886.6 164.0 L887.0 160.9 L887.3 163.1 L887.7 160.5 L888.0 163.2 L888.4 163.3 L888.7 160.9 L889.1 159.9 L889.4 160.8 L889.8 160.9 L890.2 162.8 L890.5 163.1 L890.9 162.1 L891.3 161.0 L891.6 158.5 L892.0 162.1 L892.4 159.9 L892.7 160.9 L893.0 158.2 L893.4 160.1 L893.8 157.1 L894.1 157.5 L894.4 155.6 L894.8 156.7 L895.1 155.4 L895.5 159.3 L895.8 156.3 L896.2 157.7 L896.5 158.7 L896.8 156.8 L897.2 152.3 L897.5 150.5 L897.8 150.3 L898.2 150.2 L898.5 149.3 L898.9 149.0 L899.2 150.1 L899.5 149.7 L899.9 149.4 L900.2 148.7 L900.6 145.1 L900.9 147.1 L901.3 145.5 L901.6 147.1 L901.9 145.7 L902.3 149.4 L902.6 149.2 L903.0 147.9 L903.3 146.5 L903.7 149.1 L904.0 147.4 L904.3 149.1 L904.7 150.0 L905.0 149.8 L905.4 148.8 L905.7 151.9 L906.1 150.0 L906.4 150.5 L906.7 150.1 L907.1 148.3 L907.4 148.4 L907.8 148.9 L908.1 149.5 L908.5 150.5 L908.8 148.5 L909.1 148.7 L909.5 149.5 L909.8 149.2 L910.2 147.3 L910.5 147.4 L910.8 149.4 L911.2 147.0 L911.5 149.6 L911.9 148.1 L912.2 149.1 L912.5 149.1 L912.9 148.7 L913.2 148.5 L913.6 148.2 L913.9 148.5 L914.2 147.8 L914.6 149.2 L915.0 150.0 L915.3 151.3 L915.6 150.3 L916.0 153.7 L916.4 154.6 L916.7 153.2 L917.0 153.3 L917.4 151.6 L917.7 153.9 L918.0 156.0 L918.4 155.6 L918.7 155.6 L919.0 154.6 L919.4 153.3 L919.7 153.1 L920.1 155.0 L920.4 157.1 L920.7 155.6 L921.1 156.8 L921.4 156.0 L921.8 154.2 L922.1 153.1 L922.5 154.4 L922.8 152.5 L923.1 154.6 L923.5 154.6 L923.9 150.0 L924.2 151.9 L924.5 153.0 L924.9 151.9 L925.2 152.8 L925.6 148.7 L925.9 149.1 L926.2 148.8 L926.6 149.8 L926.9 148.3 L927.3 150.5 L927.6 148.4 L928.0 150.1 L928.3 147.8 L928.6 146.4 L929.0 147.4 L929.3 146.6 L929.6 146.2 L930.0 146.3 L930.3 145.2 L930.6 143.6 L931.0 144.1 L931.3 145.5 L931.7 146.6 L932.0 146.5 L932.3 148.2 L932.7 145.9 L933.0 148.4 L933.4 148.6 L933.7 147.1 L934.1 147.9 L934.4 147.9 L934.8 148.0 L935.1 146.1 L935.5 147.8 L935.8 148.4 L936.1 147.4 L936.5 148.5 L936.8 148.6 L937.2 149.1 L937.5 147.2 L937.9 146.5 L938.2 148.2 L938.5 147.2 L938.9 144.0 L939.2 146.7 L939.6 147.3 L939.9 144.2 L940.3 145.9 L940.6 144.2 L940.9 146.0 L941.3 143.6 L941.6 144.7 L942.0 143.9 L942.3 145.4 L942.6 145.8 L943.0 146.6 L943.3 145.3 L943.6 142.1 L944.0 146.3 L944.3 144.9 L944.6 144.2 L945.0 150.7 L945.3 144.9 L945.7 146.9 L946.0 147.1 L946.4 148.4 L946.7 148.8 L947.1 148.7 L947.5 148.3 L947.9 148.6 L948.2 148.8 L948.6 146.9" fill="none" stroke="#f4b53f" stroke-width="2.1" stroke-linejoin="round"/>
<rect x="174" y="200" width="300" height="56" fill="#fff"/>
<line x1="176.3" x2="176.3" y1="200.6" y2="255.9" stroke="#d9d9d9" stroke-width="1.5"/>
<text x="185.6" y="215.8" font-size="10" fill="#333" textLength="100.6" lengthAdjust="spacingAndGlyphs">Thursday, 23 Aug 2018</text>
<circle cx="188.75" cy="226.9" r="2.6" fill="#3aa8d8"/>
<circle cx="188.75" cy="241.4" r="2.6" fill="#f4b53f"/>
<text x="196.9" y="230.3" font-size="12" fill="#333" textLength="269" lengthAdjust="spacingAndGlyphs">Bitcoin Exchange Balance (Total, L): <tspan font-weight="bold">2,463,864.40</tspan></text>
<text x="196.9" y="244.4" font-size="12" fill="#333" textLength="147" lengthAdjust="spacingAndGlyphs">Bitcoin / USD (R): <tspan font-weight="bold">6,534.88</tspan></text>
<rect x="634.5" y="191.5" width="299.5" height="60" rx="3" fill="none" stroke="#000" stroke-opacity="0.06" stroke-width="5" transform="translate(1 1)"/>
<rect x="634.5" y="191.5" width="299.5" height="60" rx="3" fill="none" stroke="#000" stroke-opacity="0.12" stroke-width="3" transform="translate(1 1)"/>
<rect x="634.5" y="191.5" width="299.5" height="60" rx="3" fill="none" stroke="#000" stroke-opacity="0.2" stroke-width="1" transform="translate(1 1)"/>
<rect x="634.5" y="191.5" width="299.5" height="60" rx="3" fill="#fff" stroke="#d9d9d9" stroke-width="1"/>
<text x="643.3" y="211.0" font-size="10" fill="#333" textLength="95.1" lengthAdjust="spacingAndGlyphs">Tuesday, 09 Sep 2025</text>
<circle cx="646.4" cy="222" r="2.6" fill="#3aa8d8"/>
<circle cx="646.4" cy="236.25" r="2.6" fill="#f4b53f"/>
<text x="654.6" y="225.1" font-size="12" fill="#333" textLength="269.2" lengthAdjust="spacingAndGlyphs">Bitcoin Exchange Balance (Total, L): <tspan font-weight="bold">2,476,822.84</tspan></text>
<text x="654.6" y="239.2" font-size="12" fill="#333" textLength="161.3" lengthAdjust="spacingAndGlyphs">Bitcoin / USD (R): <tspan font-weight="bold">111,530.55</tspan></text>
<line x1="319.7" x2="335" y1="495.4" y2="495.4" stroke="#3aa8d8" stroke-width="2"/>
<text x="340.5" y="499.3" font-size="13.7" font-weight="bold" fill="#111" stroke="#111" stroke-width="0.25" textLength="222.7" lengthAdjust="spacingAndGlyphs">Bitcoin Exchange Balance (Total, L)</text>
<line x1="584" x2="599.8" y1="495.5" y2="495.5" stroke="#f4b53f" stroke-width="2"/>
<text x="605.4" y="499.3" font-size="13.7" font-weight="bold" fill="#111" stroke="#111" stroke-width="0.25" textLength="107.7" lengthAdjust="spacingAndGlyphs">Bitcoin / USD (R)</text>
</svg>
</body></html>
